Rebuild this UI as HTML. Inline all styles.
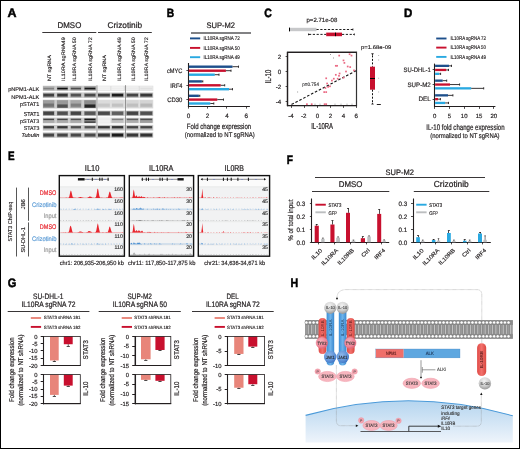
<!DOCTYPE html>
<html><head><meta charset="utf-8"><style>
html,body{margin:0;padding:0;background:#fff;}
body{width:520px;height:449px;overflow:hidden;}
svg{display:block;font-family:"Liberation Sans",sans-serif;will-change:transform;text-rendering:geometricPrecision;}
</style></head><body>
<svg width="520" height="449" viewBox="0 0 520 449" fill="#231f20">
<defs>
<filter id="bl" x="-20%" y="-60%" width="140%" height="220%"><feGaussianBlur stdDeviation="0.6"/></filter>
<filter id="bl2" x="-20%" y="-60%" width="140%" height="220%"><feGaussianBlur stdDeviation="0.35"/></filter>
<radialGradient id="ilg" cx="0.45" cy="0.3" r="0.75"><stop offset="0" stop-color="#f2f2f2"/><stop offset="0.55" stop-color="#cfcfcf"/><stop offset="1" stop-color="#8e8e8e"/></radialGradient>
<radialGradient id="tyk" cx="0.4" cy="0.35" r="0.7"><stop offset="0" stop-color="#f7b0bb"/><stop offset="0.7" stop-color="#ee8294"/><stop offset="1" stop-color="#d9596e"/></radialGradient>
<radialGradient id="jak" cx="0.4" cy="0.35" r="0.7"><stop offset="0" stop-color="#8fb8ea"/><stop offset="0.7" stop-color="#5b8fd6"/><stop offset="1" stop-color="#3a6fbf"/></radialGradient>
<linearGradient id="nuc" x1="0" y1="0" x2="0" y2="1"><stop offset="0" stop-color="#b5d5ef"/><stop offset="1" stop-color="#eef4fb"/></linearGradient>
<linearGradient id="rbar" x1="0" y1="0" x2="1" y2="0"><stop offset="0" stop-color="#e04a46"/><stop offset="0.5" stop-color="#f2716c"/><stop offset="1" stop-color="#d9463f"/></linearGradient>
<linearGradient id="bbar" x1="0" y1="0" x2="1" y2="0"><stop offset="0" stop-color="#3d8fd6"/><stop offset="0.5" stop-color="#6fb3ea"/><stop offset="1" stop-color="#3a88cf"/></linearGradient>
<pattern id="mem" x="0.4" y="320.2" width="3.54" height="18.6" patternUnits="userSpaceOnUse">
<rect x="0" y="0" width="3.54" height="18.6" fill="#979797"/>
<rect x="0" y="0" width="3.54" height="4.3" fill="#666"/>
<rect x="0" y="14.3" width="3.54" height="4.3" fill="#666"/>
<rect x="1.35" y="4.3" width="0.84" height="10" fill="#d2d2d2"/>
<rect x="0.2" y="4.3" width="0.5" height="10" fill="#5c5c5c"/>
<rect x="2.84" y="4.3" width="0.5" height="10" fill="#5c5c5c"/>
<circle cx="1.77" cy="2.2" r="1.5" fill="#fff" stroke="#555" stroke-width="0.25"/>
<circle cx="1.77" cy="16.4" r="1.5" fill="#fff" stroke="#555" stroke-width="0.25"/>
</pattern>
</defs>
<rect x="0" y="0" width="520" height="449" fill="#fff"/>
<text x="7.50" y="16.90" font-size="12.35" font-weight="bold" fill="#000" stroke="#000" stroke-width="0.5" textLength="9.00" lengthAdjust="spacingAndGlyphs">A</text>
<text x="166.70" y="16.90" font-size="12.06" font-weight="bold" fill="#000" stroke="#000" stroke-width="0.5" textLength="7.40" lengthAdjust="spacingAndGlyphs">B</text>
<text x="264.20" y="16.90" font-size="12.06" font-weight="bold" fill="#000" stroke="#000" stroke-width="0.5" textLength="7.60" lengthAdjust="spacingAndGlyphs">C</text>
<text x="404.00" y="16.90" font-size="12.06" font-weight="bold" fill="#000" stroke="#000" stroke-width="0.5" textLength="8.30" lengthAdjust="spacingAndGlyphs">D</text>
<text x="8.00" y="159.60" font-size="12.21" font-weight="bold" fill="#000" stroke="#000" stroke-width="0.5" textLength="6.60" lengthAdjust="spacingAndGlyphs">E</text>
<text x="286.70" y="164.00" font-size="12.21" font-weight="bold" fill="#000" stroke="#000" stroke-width="0.5" textLength="6.20" lengthAdjust="spacingAndGlyphs">F</text>
<text x="7.80" y="286.60" font-size="12.21" font-weight="bold" fill="#000" stroke="#000" stroke-width="0.5" textLength="8.60" lengthAdjust="spacingAndGlyphs">G</text>
<text x="290.60" y="286.60" font-size="12.21" font-weight="bold" fill="#000" stroke="#000" stroke-width="0.5" textLength="7.70" lengthAdjust="spacingAndGlyphs">H</text>
<text x="57.60" y="28.10" font-size="8.28" stroke="#231f20" stroke-width="0.232" textLength="23.70" lengthAdjust="spacingAndGlyphs">DMSO</text>
<text x="107.60" y="27.60" font-size="8.43" stroke="#231f20" stroke-width="0.236" textLength="34.50" lengthAdjust="spacingAndGlyphs">Crizotinib</text>
<line x1="42.30" y1="32.50" x2="96.30" y2="32.50" stroke="#231f20" stroke-width="0.9"/>
<line x1="98.00" y1="32.50" x2="151.80" y2="32.50" stroke="#231f20" stroke-width="0.9"/>
<text x="50.70" y="81.10" font-size="5.00" stroke="#231f20" stroke-width="0.140" textLength="26.10" lengthAdjust="spacingAndGlyphs" transform="rotate(-90 50.70 81.10)">NT sgRNA</text>
<text x="65.00" y="81.10" font-size="5.00" stroke="#231f20" stroke-width="0.140" textLength="43.90" lengthAdjust="spacingAndGlyphs" transform="rotate(-90 65.00 81.10)">IL10RA sgRNA49</text>
<text x="75.70" y="81.10" font-size="5.00" stroke="#231f20" stroke-width="0.140" textLength="43.90" lengthAdjust="spacingAndGlyphs" transform="rotate(-90 75.70 81.10)">IL10RA sgRNA 50</text>
<text x="92.30" y="81.10" font-size="5.00" stroke="#231f20" stroke-width="0.140" textLength="43.90" lengthAdjust="spacingAndGlyphs" transform="rotate(-90 92.30 81.10)">IL10RA sgRNA 72</text>
<text x="105.60" y="81.10" font-size="5.00" stroke="#231f20" stroke-width="0.140" textLength="26.10" lengthAdjust="spacingAndGlyphs" transform="rotate(-90 105.60 81.10)">NT sgRNA</text>
<text x="120.60" y="81.10" font-size="5.00" stroke="#231f20" stroke-width="0.140" textLength="43.90" lengthAdjust="spacingAndGlyphs" transform="rotate(-90 120.60 81.10)">IL10RA sgRNA 49</text>
<text x="135.10" y="81.10" font-size="5.00" stroke="#231f20" stroke-width="0.140" textLength="43.90" lengthAdjust="spacingAndGlyphs" transform="rotate(-90 135.10 81.10)">IL10RA sgRNA 50</text>
<text x="148.20" y="81.10" font-size="5.00" stroke="#231f20" stroke-width="0.140" textLength="43.90" lengthAdjust="spacingAndGlyphs" transform="rotate(-90 148.20 81.10)">IL10RA sgRNA 72</text>
<text x="8.20" y="90.90" font-size="5.38" stroke="#231f20" stroke-width="0.151" textLength="31.10" lengthAdjust="spacingAndGlyphs">pNPM1-ALK</text>
<text x="11.20" y="98.60" font-size="5.52" stroke="#231f20" stroke-width="0.155" textLength="28.10" lengthAdjust="spacingAndGlyphs">NPM1-ALK</text>
<text x="20.00" y="105.90" font-size="5.52" stroke="#231f20" stroke-width="0.155" textLength="19.30" lengthAdjust="spacingAndGlyphs">pSTAT1</text>
<text x="23.80" y="115.70" font-size="5.67" stroke="#231f20" stroke-width="0.159" textLength="15.50" lengthAdjust="spacingAndGlyphs">STAT1</text>
<text x="20.00" y="122.50" font-size="5.38" stroke="#231f20" stroke-width="0.151" textLength="19.30" lengthAdjust="spacingAndGlyphs">pSTAT3</text>
<text x="23.80" y="129.90" font-size="5.52" stroke="#231f20" stroke-width="0.155" textLength="15.50" lengthAdjust="spacingAndGlyphs">STAT3</text>
<text x="21.50" y="136.60" font-size="5.52" font-style="italic" stroke="#231f20" stroke-width="0.155" textLength="17.80" lengthAdjust="spacingAndGlyphs">Tubulin</text>
<rect x="42.80" y="85.70" width="54.20" height="5.20" fill="#cccccc"/>
<rect x="97.30" y="85.70" width="56.00" height="5.20" fill="#e0e0e0"/>
<rect x="43.00" y="86.20" width="11.40" height="4.20" fill="#b2b2b2" filter="url(#bl)"/>
<rect x="43.40" y="87.76" width="10.60" height="1.60" fill="#808080" filter="url(#bl)"/>
<rect x="56.90" y="86.20" width="11.10" height="4.20" fill="#a6a6a6" filter="url(#bl)"/>
<rect x="57.30" y="87.76" width="10.30" height="1.60" fill="#080808" filter="url(#bl)"/>
<rect x="70.40" y="86.20" width="11.00" height="4.20" fill="#ababab" filter="url(#bl)"/>
<rect x="70.80" y="87.76" width="10.20" height="1.60" fill="#4d4d4d" filter="url(#bl)"/>
<rect x="84.20" y="86.20" width="11.60" height="4.20" fill="#999999" filter="url(#bl)"/>
<rect x="84.60" y="87.76" width="10.80" height="1.60" fill="#141414" filter="url(#bl)"/>
<rect x="97.60" y="86.20" width="12.60" height="4.20" fill="#f2f2f2" filter="url(#bl)"/>
<rect x="98.00" y="87.76" width="11.80" height="1.60" fill="#f0f0f0" filter="url(#bl)"/>
<rect x="111.50" y="86.20" width="12.10" height="4.20" fill="#f2f2f2" filter="url(#bl)"/>
<rect x="111.90" y="87.76" width="11.30" height="1.60" fill="#ededed" filter="url(#bl)"/>
<rect x="126.40" y="86.20" width="12.10" height="4.20" fill="#f0f0f0" filter="url(#bl)"/>
<rect x="126.80" y="87.76" width="11.30" height="1.60" fill="#ebebeb" filter="url(#bl)"/>
<rect x="140.00" y="86.20" width="12.60" height="4.20" fill="#ebebeb" filter="url(#bl)"/>
<rect x="140.40" y="87.76" width="11.80" height="1.60" fill="#e0e0e0" filter="url(#bl)"/>
<rect x="42.80" y="92.40" width="54.20" height="5.50" fill="#cccccc"/>
<rect x="97.30" y="92.40" width="56.00" height="5.50" fill="#d4d4d4"/>
<rect x="43.00" y="92.90" width="11.40" height="4.50" fill="#999999" filter="url(#bl)"/>
<rect x="43.40" y="93.85" width="10.60" height="2.60" fill="#404040" filter="url(#bl)"/>
<rect x="56.90" y="92.90" width="11.10" height="4.50" fill="#999999" filter="url(#bl)"/>
<rect x="57.30" y="93.85" width="10.30" height="2.60" fill="#383838" filter="url(#bl)"/>
<rect x="70.40" y="92.90" width="11.00" height="4.50" fill="#a1a1a1" filter="url(#bl)"/>
<rect x="70.80" y="93.85" width="10.20" height="2.60" fill="#525252" filter="url(#bl)"/>
<rect x="84.20" y="92.90" width="11.60" height="4.50" fill="#a1a1a1" filter="url(#bl)"/>
<rect x="84.60" y="93.85" width="10.80" height="2.60" fill="#4a4a4a" filter="url(#bl)"/>
<rect x="97.60" y="92.90" width="12.60" height="4.50" fill="#a6a6a6" filter="url(#bl)"/>
<rect x="98.00" y="93.85" width="11.80" height="2.60" fill="#404040" filter="url(#bl)"/>
<rect x="111.50" y="92.90" width="12.10" height="4.50" fill="#999999" filter="url(#bl)"/>
<rect x="111.90" y="93.85" width="11.30" height="2.60" fill="#1f1f1f" filter="url(#bl)"/>
<rect x="126.40" y="92.90" width="12.10" height="4.50" fill="#a1a1a1" filter="url(#bl)"/>
<rect x="126.80" y="93.85" width="11.30" height="2.60" fill="#454545" filter="url(#bl)"/>
<rect x="140.00" y="92.90" width="12.60" height="4.50" fill="#999999" filter="url(#bl)"/>
<rect x="140.40" y="93.85" width="11.80" height="2.60" fill="#383838" filter="url(#bl)"/>
<rect x="42.80" y="99.70" width="54.20" height="8.80" fill="#cccccc"/>
<rect x="97.30" y="99.70" width="56.00" height="8.80" fill="#e0e0e0"/>
<rect x="43.00" y="100.20" width="11.40" height="7.80" fill="#9e9e9e" filter="url(#bl)"/>
<rect x="43.40" y="103.56" width="10.60" height="3.20" fill="#737373" filter="url(#bl)"/>
<rect x="56.90" y="100.20" width="11.10" height="7.80" fill="#999999" filter="url(#bl)"/>
<rect x="57.30" y="104.44" width="10.30" height="3.20" fill="#525252" filter="url(#bl)"/>
<rect x="70.40" y="100.20" width="11.00" height="7.80" fill="#a8a8a8" filter="url(#bl)"/>
<rect x="70.80" y="103.56" width="10.20" height="3.20" fill="#808080" filter="url(#bl)"/>
<rect x="84.20" y="100.20" width="11.60" height="7.80" fill="#8c8c8c" filter="url(#bl)"/>
<rect x="84.60" y="104.44" width="10.80" height="3.20" fill="#262626" filter="url(#bl)"/>
<rect x="97.60" y="100.20" width="12.60" height="7.80" fill="#dbdbdb" filter="url(#bl)"/>
<rect x="98.00" y="103.56" width="11.80" height="3.20" fill="#c7c7c7" filter="url(#bl)"/>
<rect x="111.50" y="100.20" width="12.10" height="7.80" fill="#dbdbdb" filter="url(#bl)"/>
<rect x="111.90" y="103.56" width="11.30" height="3.20" fill="#c2c2c2" filter="url(#bl)"/>
<rect x="126.40" y="100.20" width="12.10" height="7.80" fill="#d6d6d6" filter="url(#bl)"/>
<rect x="126.80" y="103.56" width="11.30" height="3.20" fill="#bfbfbf" filter="url(#bl)"/>
<rect x="140.00" y="100.20" width="12.60" height="7.80" fill="#d4d4d4" filter="url(#bl)"/>
<rect x="140.40" y="103.56" width="11.80" height="3.20" fill="#b8b8b8" filter="url(#bl)"/>
<rect x="42.80" y="110.50" width="54.20" height="5.60" fill="#cccccc"/>
<rect x="97.30" y="110.50" width="56.00" height="5.60" fill="#d4d4d4"/>
<rect x="43.00" y="111.00" width="11.40" height="4.60" fill="#919191" filter="url(#bl)"/>
<rect x="43.40" y="111.70" width="10.60" height="3.20" fill="#454545" filter="url(#bl)"/>
<rect x="56.90" y="111.00" width="11.10" height="4.60" fill="#969696" filter="url(#bl)"/>
<rect x="57.30" y="111.70" width="10.30" height="3.20" fill="#4f4f4f" filter="url(#bl)"/>
<rect x="70.40" y="111.00" width="11.00" height="4.60" fill="#919191" filter="url(#bl)"/>
<rect x="70.80" y="111.70" width="10.20" height="3.20" fill="#454545" filter="url(#bl)"/>
<rect x="84.20" y="111.00" width="11.60" height="4.60" fill="#969696" filter="url(#bl)"/>
<rect x="84.60" y="111.70" width="10.80" height="3.20" fill="#545454" filter="url(#bl)"/>
<rect x="97.60" y="111.00" width="12.60" height="4.60" fill="#999999" filter="url(#bl)"/>
<rect x="98.00" y="111.70" width="11.80" height="3.20" fill="#4a4a4a" filter="url(#bl)"/>
<rect x="111.50" y="111.00" width="12.10" height="4.60" fill="#a1a1a1" filter="url(#bl)"/>
<rect x="111.90" y="111.70" width="11.30" height="3.20" fill="#5e5e5e" filter="url(#bl)"/>
<rect x="126.40" y="111.00" width="12.10" height="4.60" fill="#919191" filter="url(#bl)"/>
<rect x="126.80" y="111.70" width="11.30" height="3.20" fill="#454545" filter="url(#bl)"/>
<rect x="140.00" y="111.00" width="12.60" height="4.60" fill="#969696" filter="url(#bl)"/>
<rect x="140.40" y="111.70" width="11.80" height="3.20" fill="#4f4f4f" filter="url(#bl)"/>
<rect x="42.80" y="117.60" width="54.20" height="5.80" fill="#cccccc"/>
<rect x="97.30" y="117.60" width="56.00" height="5.80" fill="#e0e0e0"/>
<rect x="43.00" y="118.10" width="11.40" height="4.80" fill="#ababab" filter="url(#bl)"/>
<rect x="43.40" y="118.81" width="10.60" height="1.30" fill="#474747" filter="url(#bl)"/>
<rect x="56.90" y="118.10" width="11.10" height="4.80" fill="#ababab" filter="url(#bl)"/>
<rect x="57.30" y="118.81" width="10.30" height="1.30" fill="#474747" filter="url(#bl)"/>
<rect x="70.40" y="118.10" width="11.00" height="4.80" fill="#ababab" filter="url(#bl)"/>
<rect x="70.80" y="118.81" width="10.20" height="1.30" fill="#525252" filter="url(#bl)"/>
<rect x="84.20" y="118.10" width="11.60" height="4.80" fill="#8c8c8c" filter="url(#bl)"/>
<rect x="84.60" y="118.81" width="10.80" height="1.30" fill="#191919" filter="url(#bl)"/>
<rect x="84.60" y="121.52" width="10.80" height="1.2" fill="#333333" filter="url(#bl)"/>
<rect x="97.60" y="118.10" width="12.60" height="4.80" fill="#f0f0f0" filter="url(#bl)"/>
<rect x="98.00" y="118.81" width="11.80" height="1.30" fill="#ebebeb" filter="url(#bl)"/>
<rect x="111.50" y="118.10" width="12.10" height="4.80" fill="#bfbfbf" filter="url(#bl)"/>
<rect x="111.90" y="118.81" width="11.30" height="1.30" fill="#808080" filter="url(#bl)"/>
<rect x="126.40" y="118.10" width="12.10" height="4.80" fill="#adadad" filter="url(#bl)"/>
<rect x="126.80" y="118.81" width="11.30" height="1.30" fill="#616161" filter="url(#bl)"/>
<rect x="140.00" y="118.10" width="12.60" height="4.80" fill="#9e9e9e" filter="url(#bl)"/>
<rect x="140.40" y="118.81" width="11.80" height="1.30" fill="#4d4d4d" filter="url(#bl)"/>
<rect x="42.80" y="124.80" width="54.20" height="5.80" fill="#cccccc"/>
<rect x="97.30" y="124.80" width="56.00" height="5.80" fill="#d4d4d4"/>
<rect x="43.00" y="125.30" width="11.40" height="4.80" fill="#bfbfbf" filter="url(#bl)"/>
<rect x="43.40" y="126.09" width="10.60" height="2.30" fill="#404040" filter="url(#bl)"/>
<rect x="56.90" y="125.30" width="11.10" height="4.80" fill="#bfbfbf" filter="url(#bl)"/>
<rect x="57.30" y="126.09" width="10.30" height="2.30" fill="#383838" filter="url(#bl)"/>
<rect x="70.40" y="125.30" width="11.00" height="4.80" fill="#c4c4c4" filter="url(#bl)"/>
<rect x="70.80" y="126.09" width="10.20" height="2.30" fill="#4f4f4f" filter="url(#bl)"/>
<rect x="84.20" y="125.30" width="11.60" height="4.80" fill="#c4c4c4" filter="url(#bl)"/>
<rect x="84.60" y="126.09" width="10.80" height="2.30" fill="#525252" filter="url(#bl)"/>
<rect x="97.60" y="125.30" width="12.60" height="4.80" fill="#bfbfbf" filter="url(#bl)"/>
<rect x="98.00" y="126.09" width="11.80" height="2.30" fill="#383838" filter="url(#bl)"/>
<rect x="111.50" y="125.30" width="12.10" height="4.80" fill="#bababa" filter="url(#bl)"/>
<rect x="111.90" y="126.09" width="11.30" height="2.30" fill="#303030" filter="url(#bl)"/>
<rect x="126.40" y="125.30" width="12.10" height="4.80" fill="#bfbfbf" filter="url(#bl)"/>
<rect x="126.80" y="126.09" width="11.30" height="2.30" fill="#454545" filter="url(#bl)"/>
<rect x="140.00" y="125.30" width="12.60" height="4.80" fill="#bfbfbf" filter="url(#bl)"/>
<rect x="140.40" y="126.09" width="11.80" height="2.30" fill="#454545" filter="url(#bl)"/>
<rect x="42.80" y="132.40" width="54.20" height="5.40" fill="#cccccc"/>
<rect x="97.30" y="132.40" width="56.00" height="5.40" fill="#d4d4d4"/>
<rect x="43.00" y="132.90" width="11.40" height="4.40" fill="#a1a1a1" filter="url(#bl)"/>
<rect x="43.40" y="133.70" width="10.60" height="2.80" fill="#454545" filter="url(#bl)"/>
<rect x="56.90" y="132.90" width="11.10" height="4.40" fill="#a1a1a1" filter="url(#bl)"/>
<rect x="57.30" y="133.70" width="10.30" height="2.80" fill="#454545" filter="url(#bl)"/>
<rect x="70.40" y="132.90" width="11.00" height="4.40" fill="#a1a1a1" filter="url(#bl)"/>
<rect x="70.80" y="133.70" width="10.20" height="2.80" fill="#4a4a4a" filter="url(#bl)"/>
<rect x="84.20" y="132.90" width="11.60" height="4.40" fill="#a1a1a1" filter="url(#bl)"/>
<rect x="84.60" y="133.70" width="10.80" height="2.80" fill="#4a4a4a" filter="url(#bl)"/>
<rect x="97.60" y="132.90" width="12.60" height="4.40" fill="#999999" filter="url(#bl)"/>
<rect x="98.00" y="133.70" width="11.80" height="2.80" fill="#383838" filter="url(#bl)"/>
<rect x="111.50" y="132.90" width="12.10" height="4.40" fill="#8c8c8c" filter="url(#bl)"/>
<rect x="111.90" y="133.70" width="11.30" height="2.80" fill="#1f1f1f" filter="url(#bl)"/>
<rect x="126.40" y="132.90" width="12.10" height="4.40" fill="#999999" filter="url(#bl)"/>
<rect x="126.80" y="133.70" width="11.30" height="2.80" fill="#383838" filter="url(#bl)"/>
<rect x="140.00" y="132.90" width="12.60" height="4.40" fill="#999999" filter="url(#bl)"/>
<rect x="140.40" y="133.70" width="11.80" height="2.80" fill="#303030" filter="url(#bl)"/>
<line x1="97.00" y1="85.20" x2="97.00" y2="138.40" stroke="#adadad" stroke-width="1.1"/>
<line x1="125.50" y1="85.20" x2="125.50" y2="138.40" stroke="#8a8a8a" stroke-width="0.9"/>
<text x="206.50" y="28.00" font-size="7.99" stroke="#231f20" stroke-width="0.224" textLength="28.50" lengthAdjust="spacingAndGlyphs">SUP-M2</text>
<line x1="191.00" y1="33.00" x2="251.00" y2="33.00" stroke="#58595b" stroke-width="1.5"/>
<line x1="190.00" y1="38.40" x2="200.20" y2="38.40" stroke="#1d4f8b" stroke-width="1.9"/>
<text x="203.50" y="40.10" font-size="5.38" stroke="#231f20" stroke-width="0.151" textLength="36.30" lengthAdjust="spacingAndGlyphs">IL10RA sgRNA 72</text>
<line x1="190.00" y1="47.90" x2="200.20" y2="47.90" stroke="#c8102e" stroke-width="1.9"/>
<text x="203.50" y="49.60" font-size="5.38" stroke="#231f20" stroke-width="0.151" textLength="36.30" lengthAdjust="spacingAndGlyphs">IL10RA sgRNA 50</text>
<line x1="190.00" y1="57.20" x2="200.20" y2="57.20" stroke="#29a9e1" stroke-width="1.9"/>
<text x="203.50" y="58.90" font-size="5.38" stroke="#231f20" stroke-width="0.151" textLength="36.30" lengthAdjust="spacingAndGlyphs">IL10RA sgRNA 49</text>
<line x1="188.50" y1="63.00" x2="188.50" y2="106.90" stroke="#231f20" stroke-width="1.1"/>
<line x1="187.90" y1="106.50" x2="249.90" y2="106.50" stroke="#231f20" stroke-width="1.1"/>
<line x1="188.50" y1="106.40" x2="188.50" y2="108.60" stroke="#231f20" stroke-width="0.8"/>
<line x1="207.50" y1="106.40" x2="207.50" y2="108.60" stroke="#231f20" stroke-width="0.8"/>
<line x1="226.50" y1="106.40" x2="226.50" y2="108.60" stroke="#231f20" stroke-width="0.8"/>
<line x1="246.50" y1="106.40" x2="246.50" y2="108.60" stroke="#231f20" stroke-width="0.8"/>
<text x="188.40" y="118.00" font-size="6.30" text-anchor="middle" stroke="#231f20" stroke-width="0.176">0</text>
<text x="207.60" y="118.00" font-size="6.30" text-anchor="middle" stroke="#231f20" stroke-width="0.176">2</text>
<text x="226.90" y="118.00" font-size="6.30" text-anchor="middle" stroke="#231f20" stroke-width="0.176">4</text>
<text x="246.20" y="118.00" font-size="6.30" text-anchor="middle" stroke="#231f20" stroke-width="0.176">6</text>
<line x1="186.40" y1="70.50" x2="188.40" y2="70.50" stroke="#231f20" stroke-width="0.8"/>
<rect x="188.90" y="65.50" width="43.60" height="2.40" fill="#1d4f8b"/>
<line x1="232.50" y1="66.70" x2="238.50" y2="66.70" stroke="#231f20" stroke-width="0.9"/>
<line x1="238.50" y1="65.60" x2="238.50" y2="67.80" stroke="#231f20" stroke-width="0.9"/>
<rect x="188.90" y="69.50" width="37.00" height="2.40" fill="#c8102e"/>
<line x1="225.90" y1="70.70" x2="231.00" y2="70.70" stroke="#231f20" stroke-width="0.9"/>
<line x1="231.00" y1="69.60" x2="231.00" y2="71.80" stroke="#231f20" stroke-width="0.9"/>
<rect x="188.90" y="73.50" width="25.90" height="2.40" fill="#29a9e1"/>
<line x1="214.80" y1="74.70" x2="219.00" y2="74.70" stroke="#231f20" stroke-width="0.9"/>
<line x1="219.00" y1="73.60" x2="219.00" y2="75.80" stroke="#231f20" stroke-width="0.9"/>
<line x1="186.40" y1="85.50" x2="188.40" y2="85.50" stroke="#231f20" stroke-width="0.8"/>
<rect x="188.90" y="80.20" width="13.00" height="2.40" fill="#1d4f8b"/>
<line x1="201.90" y1="81.40" x2="202.80" y2="81.40" stroke="#231f20" stroke-width="0.9"/>
<line x1="202.80" y1="80.30" x2="202.80" y2="82.50" stroke="#231f20" stroke-width="0.9"/>
<rect x="188.90" y="84.10" width="31.80" height="2.40" fill="#c8102e"/>
<line x1="220.70" y1="85.30" x2="224.70" y2="85.30" stroke="#231f20" stroke-width="0.9"/>
<line x1="224.70" y1="84.20" x2="224.70" y2="86.40" stroke="#231f20" stroke-width="0.9"/>
<rect x="188.90" y="88.00" width="40.10" height="2.40" fill="#29a9e1"/>
<line x1="229.00" y1="89.20" x2="232.50" y2="89.20" stroke="#231f20" stroke-width="0.9"/>
<line x1="232.50" y1="88.10" x2="232.50" y2="90.30" stroke="#231f20" stroke-width="0.9"/>
<line x1="186.40" y1="99.50" x2="188.40" y2="99.50" stroke="#231f20" stroke-width="0.8"/>
<rect x="188.90" y="94.60" width="10.00" height="2.40" fill="#1d4f8b"/>
<line x1="198.90" y1="95.80" x2="199.80" y2="95.80" stroke="#231f20" stroke-width="0.9"/>
<line x1="199.80" y1="94.70" x2="199.80" y2="96.90" stroke="#231f20" stroke-width="0.9"/>
<rect x="188.90" y="98.40" width="28.40" height="2.40" fill="#c8102e"/>
<line x1="217.30" y1="99.60" x2="223.50" y2="99.60" stroke="#231f20" stroke-width="0.9"/>
<line x1="223.50" y1="98.50" x2="223.50" y2="100.70" stroke="#231f20" stroke-width="0.9"/>
<rect x="188.90" y="102.30" width="21.40" height="2.40" fill="#29a9e1"/>
<line x1="210.30" y1="103.50" x2="213.80" y2="103.50" stroke="#231f20" stroke-width="0.9"/>
<line x1="213.80" y1="102.40" x2="213.80" y2="104.60" stroke="#231f20" stroke-width="0.9"/>
<text x="167.00" y="72.90" font-size="6.40" stroke="#231f20" stroke-width="0.179" textLength="15.40" lengthAdjust="spacingAndGlyphs">cMYC</text>
<text x="170.30" y="87.50" font-size="6.40" stroke="#231f20" stroke-width="0.179" textLength="12.10" lengthAdjust="spacingAndGlyphs">IRF4</text>
<text x="167.20" y="101.80" font-size="6.40" stroke="#231f20" stroke-width="0.179" textLength="15.20" lengthAdjust="spacingAndGlyphs">CD30</text>
<text x="186.80" y="128.80" font-size="7.70" stroke="#231f20" stroke-width="0.216" textLength="64.40" lengthAdjust="spacingAndGlyphs">Fold change expression</text>
<text x="184.80" y="136.60" font-size="6.83" stroke="#231f20" stroke-width="0.191" textLength="70.00" lengthAdjust="spacingAndGlyphs">(normalized to NT sgRNA)</text>
<text x="306.50" y="21.90" font-size="5.96" stroke="#231f20" stroke-width="0.167" textLength="30.80" lengthAdjust="spacingAndGlyphs">p=2.71e-08</text>
<rect x="289.80" y="27.80" width="26.70" height="3.40" fill="#c7c8ca"/>
<line x1="289.50" y1="27.60" x2="289.50" y2="31.40" stroke="#000" stroke-width="1.0"/>
<line x1="316.50" y1="29.50" x2="352.50" y2="29.50" stroke="#111" stroke-width="0.95" stroke-dasharray="2.2 1.6"/>
<path d="M353.3 28.3 L351.3 29.5 L353.3 30.7 Z" fill="#231f20"/>
<line x1="309.00" y1="34.40" x2="326.20" y2="34.40" stroke="#111" stroke-width="0.95" stroke-dasharray="2.2 1.6"/>
<path d="M308.0 33.2 L310.0 34.4 L308.0 35.6 Z" fill="#231f20"/>
<rect x="326.20" y="32.60" width="15.80" height="3.60" fill="#c8102e"/>
<line x1="335.50" y1="32.60" x2="335.50" y2="36.20" stroke="#000" stroke-width="1.0"/>
<line x1="342.00" y1="34.40" x2="353.80" y2="34.40" stroke="#111" stroke-width="0.95" stroke-dasharray="2.2 1.6"/>
<path d="M354.8 33.2 L352.8 34.4 L354.8 35.6 Z" fill="#231f20"/>
<rect x="287.5" y="52.1" width="69.0" height="53.6" fill="none" stroke="#333" stroke-width="1.2"/>
<line x1="287.50" y1="52.00" x2="287.50" y2="106.20" stroke="#231f20" stroke-width="1.3"/>
<line x1="287.60" y1="105.50" x2="356.50" y2="105.50" stroke="#231f20" stroke-width="1.2"/>
<line x1="287.60" y1="52.50" x2="356.50" y2="52.50" stroke="#231f20" stroke-width="1.1"/>
<line x1="285.60" y1="56.50" x2="287.60" y2="56.50" stroke="#231f20" stroke-width="0.8"/>
<text x="281.30" y="58.80" font-size="6.20" text-anchor="end" stroke="#231f20" stroke-width="0.174">2</text>
<line x1="285.60" y1="71.50" x2="287.60" y2="71.50" stroke="#231f20" stroke-width="0.8"/>
<text x="281.30" y="73.90" font-size="6.20" text-anchor="end" stroke="#231f20" stroke-width="0.174">0</text>
<line x1="285.60" y1="86.50" x2="287.60" y2="86.50" stroke="#231f20" stroke-width="0.8"/>
<text x="281.30" y="89.00" font-size="6.20" text-anchor="end" stroke="#231f20" stroke-width="0.174">-2</text>
<line x1="285.60" y1="101.50" x2="287.60" y2="101.50" stroke="#231f20" stroke-width="0.8"/>
<text x="281.30" y="104.10" font-size="6.20" text-anchor="end" stroke="#231f20" stroke-width="0.174">-4</text>
<line x1="291.50" y1="105.70" x2="291.50" y2="107.90" stroke="#231f20" stroke-width="0.8"/>
<text x="290.90" y="118.10" font-size="6.20" text-anchor="middle" stroke="#231f20" stroke-width="0.174">-4</text>
<line x1="304.50" y1="105.70" x2="304.50" y2="107.90" stroke="#231f20" stroke-width="0.8"/>
<text x="303.80" y="118.10" font-size="6.20" text-anchor="middle" stroke="#231f20" stroke-width="0.174">-2</text>
<line x1="317.50" y1="105.70" x2="317.50" y2="107.90" stroke="#231f20" stroke-width="0.8"/>
<text x="317.60" y="118.10" font-size="6.20" text-anchor="middle" stroke="#231f20" stroke-width="0.174">0</text>
<line x1="330.50" y1="105.70" x2="330.50" y2="107.90" stroke="#231f20" stroke-width="0.8"/>
<text x="330.50" y="118.10" font-size="6.20" text-anchor="middle" stroke="#231f20" stroke-width="0.174">2</text>
<line x1="343.50" y1="105.70" x2="343.50" y2="107.90" stroke="#231f20" stroke-width="0.8"/>
<text x="343.40" y="118.10" font-size="6.20" text-anchor="middle" stroke="#231f20" stroke-width="0.174">4</text>
<line x1="356.50" y1="105.70" x2="356.50" y2="107.90" stroke="#231f20" stroke-width="0.8"/>
<text x="356.30" y="118.10" font-size="6.20" text-anchor="middle" stroke="#231f20" stroke-width="0.174">6</text>
<text x="311.20" y="128.60" font-size="8.58" stroke="#231f20" stroke-width="0.240" textLength="21.80" lengthAdjust="spacingAndGlyphs">IL-10RA</text>
<text x="271.00" y="76.60" font-size="8.40" text-anchor="middle" stroke="#231f20" stroke-width="0.235" textLength="13.70" lengthAdjust="spacingAndGlyphs" transform="rotate(-90 271.00 76.60)">IL-10</text>
<text x="302.20" y="85.60" font-size="4.94" fill="#414042" stroke="#414042" stroke-width="0.138" textLength="16.80" lengthAdjust="spacingAndGlyphs">p=0.754</text>
<line x1="291.50" y1="104.50" x2="356.30" y2="70.60" stroke="#111" stroke-width="1.1" stroke-dasharray="2.6 1.8"/>
<rect x="338.35" y="54.75" width="1.70" height="1.70" fill="#ea6882"/>
<rect x="348.75" y="53.35" width="1.70" height="1.70" fill="#ea6882"/>
<rect x="350.65" y="54.75" width="1.70" height="1.70" fill="#ea6882"/>
<rect x="342.65" y="59.55" width="1.70" height="1.70" fill="#ea6882"/>
<rect x="343.55" y="62.05" width="1.70" height="1.70" fill="#ea6882"/>
<rect x="334.95" y="64.95" width="1.70" height="1.70" fill="#ea6882"/>
<rect x="336.25" y="64.95" width="1.70" height="1.70" fill="#ea6882"/>
<rect x="346.85" y="65.65" width="1.70" height="1.70" fill="#ea6882"/>
<rect x="349.35" y="66.25" width="1.70" height="1.70" fill="#ea6882"/>
<rect x="353.15" y="69.55" width="1.70" height="1.70" fill="#ea6882"/>
<rect x="338.75" y="72.65" width="1.70" height="1.70" fill="#ea6882"/>
<rect x="334.95" y="73.95" width="1.70" height="1.70" fill="#ea6882"/>
<rect x="325.35" y="77.45" width="1.70" height="1.70" fill="#ea6882"/>
<rect x="332.95" y="77.85" width="1.70" height="1.70" fill="#ea6882"/>
<rect x="331.05" y="79.75" width="1.70" height="1.70" fill="#ea6882"/>
<rect x="336.85" y="77.85" width="1.70" height="1.70" fill="#ea6882"/>
<rect x="342.65" y="76.85" width="1.70" height="1.70" fill="#ea6882"/>
<rect x="326.25" y="82.65" width="1.70" height="1.70" fill="#ea6882"/>
<rect x="329.15" y="85.45" width="1.70" height="1.70" fill="#ea6882"/>
<rect x="327.25" y="86.05" width="1.70" height="1.70" fill="#ea6882"/>
<rect x="323.35" y="91.25" width="1.70" height="1.70" fill="#ea6882"/>
<rect x="325.35" y="91.25" width="1.70" height="1.70" fill="#ea6882"/>
<rect x="306.05" y="103.35" width="1.70" height="1.70" fill="#ea6882"/>
<rect x="310.85" y="103.35" width="1.70" height="1.70" fill="#ea6882"/>
<rect x="323.75" y="103.35" width="1.70" height="1.70" fill="#ea6882"/>
<rect x="325.35" y="103.35" width="1.70" height="1.70" fill="#ea6882"/>
<rect x="338.15" y="74.95" width="1.70" height="1.70" fill="#ea6882"/>
<rect x="345.15" y="70.65" width="1.70" height="1.70" fill="#ea6882"/>
<rect x="324.55" y="87.15" width="1.70" height="1.70" fill="#ea6882"/>
<rect x="330.00" y="54.00" width="1.00" height="1.00" fill="#9a9a9a"/>
<rect x="333.00" y="57.50" width="1.00" height="1.00" fill="#9a9a9a"/>
<rect x="297.10" y="91.50" width="1.00" height="1.00" fill="#9a9a9a"/>
<rect x="291.50" y="103.70" width="1.00" height="1.00" fill="#9a9a9a"/>
<rect x="314.50" y="103.70" width="1.00" height="1.00" fill="#9a9a9a"/>
<rect x="334.50" y="103.70" width="1.00" height="1.00" fill="#9a9a9a"/>
<rect x="340.50" y="103.70" width="1.00" height="1.00" fill="#9a9a9a"/>
<rect x="346.50" y="103.70" width="1.00" height="1.00" fill="#9a9a9a"/>
<rect x="351.50" y="103.70" width="1.00" height="1.00" fill="#9a9a9a"/>
<rect x="319.50" y="103.70" width="1.00" height="1.00" fill="#9a9a9a"/>
<text x="361.00" y="49.00" font-size="5.38" stroke="#231f20" stroke-width="0.151" textLength="30.30" lengthAdjust="spacingAndGlyphs">p=1.68e-09</text>
<path d="M371.2 53.2 L373.8 53.2 L372.5 55.4 Z" fill="#231f20"/>
<line x1="372.50" y1="55.40" x2="372.50" y2="66.70" stroke="#111" stroke-width="1.0" stroke-dasharray="2.0 1.5"/>
<rect x="370.00" y="66.70" width="5.00" height="23.00" fill="#c8102e"/>
<line x1="370.00" y1="78.50" x2="375.00" y2="78.50" stroke="#000" stroke-width="1.0"/>
<line x1="372.50" y1="89.70" x2="372.50" y2="103.40" stroke="#111" stroke-width="1.0" stroke-dasharray="2.0 1.5"/>
<path d="M371.2 104.6 L373.8 104.6 L372.5 102.6 Z" fill="#231f20"/>
<line x1="376.80" y1="104.50" x2="380.80" y2="104.50" stroke="#231f20" stroke-width="1.0"/>
<rect x="378.30" y="55.10" width="0.80" height="0.80" fill="#8a8a8a"/>
<rect x="378.30" y="59.60" width="0.80" height="0.80" fill="#8a8a8a"/>
<rect x="378.30" y="77.80" width="0.80" height="0.80" fill="#8a8a8a"/>
<rect x="378.30" y="91.60" width="0.80" height="0.80" fill="#8a8a8a"/>
<line x1="436.20" y1="38.50" x2="446.50" y2="38.50" stroke="#1d4f8b" stroke-width="1.9"/>
<text x="450.40" y="40.20" font-size="5.38" stroke="#231f20" stroke-width="0.151" textLength="35.60" lengthAdjust="spacingAndGlyphs">IL10RA sgRNA 72</text>
<line x1="436.20" y1="47.60" x2="446.50" y2="47.60" stroke="#c8102e" stroke-width="1.9"/>
<text x="450.40" y="49.30" font-size="5.38" stroke="#231f20" stroke-width="0.151" textLength="35.60" lengthAdjust="spacingAndGlyphs">IL10RA sgRNA 50</text>
<line x1="436.20" y1="56.90" x2="446.50" y2="56.90" stroke="#29a9e1" stroke-width="1.9"/>
<text x="450.40" y="58.60" font-size="5.38" stroke="#231f20" stroke-width="0.151" textLength="35.60" lengthAdjust="spacingAndGlyphs">IL10RA sgRNA 49</text>
<line x1="434.50" y1="63.60" x2="434.50" y2="107.00" stroke="#231f20" stroke-width="1.1"/>
<line x1="434.10" y1="106.50" x2="495.40" y2="106.50" stroke="#231f20" stroke-width="1.1"/>
<line x1="434.50" y1="106.60" x2="434.50" y2="108.90" stroke="#231f20" stroke-width="0.8"/>
<text x="434.60" y="117.50" font-size="6.00" text-anchor="middle" stroke="#231f20" stroke-width="0.168">0</text>
<line x1="449.50" y1="106.60" x2="449.50" y2="108.90" stroke="#231f20" stroke-width="0.8"/>
<text x="449.40" y="117.50" font-size="6.00" text-anchor="middle" stroke="#231f20" stroke-width="0.168">5</text>
<line x1="464.50" y1="106.60" x2="464.50" y2="108.90" stroke="#231f20" stroke-width="0.8"/>
<text x="464.20" y="117.50" font-size="6.00" text-anchor="middle" stroke="#231f20" stroke-width="0.168">10</text>
<line x1="479.50" y1="106.60" x2="479.50" y2="108.90" stroke="#231f20" stroke-width="0.8"/>
<text x="479.00" y="117.50" font-size="6.00" text-anchor="middle" stroke="#231f20" stroke-width="0.168">15</text>
<line x1="493.50" y1="106.60" x2="493.50" y2="108.90" stroke="#231f20" stroke-width="0.8"/>
<text x="493.80" y="117.50" font-size="6.00" text-anchor="middle" stroke="#231f20" stroke-width="0.168">20</text>
<line x1="432.60" y1="69.50" x2="434.60" y2="69.50" stroke="#231f20" stroke-width="0.8"/>
<text x="403.50" y="72.10" font-size="6.40" stroke="#231f20" stroke-width="0.179" textLength="27.30" lengthAdjust="spacingAndGlyphs">SU-DHL-1</text>
<rect x="435.10" y="64.70" width="13.90" height="2.30" fill="#1d4f8b"/>
<line x1="449.00" y1="65.85" x2="451.50" y2="65.85" stroke="#231f20" stroke-width="0.9"/>
<line x1="451.50" y1="64.75" x2="451.50" y2="66.95" stroke="#231f20" stroke-width="0.9"/>
<rect x="435.10" y="68.80" width="11.10" height="2.30" fill="#c8102e"/>
<line x1="446.20" y1="69.95" x2="448.50" y2="69.95" stroke="#231f20" stroke-width="0.9"/>
<line x1="448.50" y1="68.85" x2="448.50" y2="71.05" stroke="#231f20" stroke-width="0.9"/>
<rect x="435.10" y="72.70" width="4.30" height="2.30" fill="#29a9e1"/>
<line x1="439.40" y1="73.85" x2="440.60" y2="73.85" stroke="#231f20" stroke-width="0.9"/>
<line x1="440.60" y1="72.75" x2="440.60" y2="74.95" stroke="#231f20" stroke-width="0.9"/>
<line x1="432.60" y1="84.50" x2="434.60" y2="84.50" stroke="#231f20" stroke-width="0.8"/>
<text x="407.50" y="86.50" font-size="6.40" stroke="#231f20" stroke-width="0.179" textLength="23.30" lengthAdjust="spacingAndGlyphs">SUP-M2</text>
<rect x="435.10" y="79.50" width="7.60" height="2.30" fill="#1d4f8b"/>
<line x1="442.70" y1="80.65" x2="446.70" y2="80.65" stroke="#231f20" stroke-width="0.9"/>
<line x1="446.70" y1="79.55" x2="446.70" y2="81.75" stroke="#231f20" stroke-width="0.9"/>
<rect x="435.10" y="83.40" width="14.90" height="2.30" fill="#c8102e"/>
<line x1="450.00" y1="84.55" x2="459.60" y2="84.55" stroke="#231f20" stroke-width="0.9"/>
<line x1="459.60" y1="83.45" x2="459.60" y2="85.65" stroke="#231f20" stroke-width="0.9"/>
<rect x="435.10" y="87.20" width="36.10" height="2.30" fill="#29a9e1"/>
<line x1="471.20" y1="88.35" x2="483.70" y2="88.35" stroke="#231f20" stroke-width="0.9"/>
<line x1="483.70" y1="87.25" x2="483.70" y2="89.45" stroke="#231f20" stroke-width="0.9"/>
<line x1="432.60" y1="99.50" x2="434.60" y2="99.50" stroke="#231f20" stroke-width="0.8"/>
<text x="418.50" y="101.20" font-size="6.40" stroke="#231f20" stroke-width="0.179" textLength="12.30" lengthAdjust="spacingAndGlyphs">DEL</text>
<rect x="435.10" y="94.20" width="12.90" height="2.30" fill="#1d4f8b"/>
<line x1="448.00" y1="95.35" x2="452.90" y2="95.35" stroke="#231f20" stroke-width="0.9"/>
<line x1="452.90" y1="94.25" x2="452.90" y2="96.45" stroke="#231f20" stroke-width="0.9"/>
<rect x="435.10" y="98.00" width="2.90" height="2.30" fill="#c8102e"/>
<line x1="438.00" y1="99.15" x2="440.40" y2="99.15" stroke="#231f20" stroke-width="0.9"/>
<line x1="440.40" y1="98.05" x2="440.40" y2="100.25" stroke="#231f20" stroke-width="0.9"/>
<rect x="435.10" y="101.80" width="10.10" height="2.30" fill="#29a9e1"/>
<line x1="445.20" y1="102.95" x2="448.50" y2="102.95" stroke="#231f20" stroke-width="0.9"/>
<line x1="448.50" y1="101.85" x2="448.50" y2="104.05" stroke="#231f20" stroke-width="0.9"/>
<text x="426.20" y="129.50" font-size="8.14" stroke="#231f20" stroke-width="0.228" textLength="78.40" lengthAdjust="spacingAndGlyphs">IL-10 fold change expression</text>
<text x="430.20" y="137.90" font-size="6.83" stroke="#231f20" stroke-width="0.191" textLength="69.40" lengthAdjust="spacingAndGlyphs">(normalized to NT sgRNA)</text>
<text x="84.80" y="170.90" font-size="8.43" stroke="#231f20" stroke-width="0.236" textLength="14.60" lengthAdjust="spacingAndGlyphs">IL10</text>
<rect x="59.30" y="175.60" width="65.10" height="80.60" fill="#fbfbfb"/>
<rect x="59.30" y="186.80" width="65.10" height="11.60" fill="#f1f2f3"/>
<line x1="59.30" y1="186.80" x2="124.40" y2="186.80" stroke="#dcdcdc" stroke-width="0.5"/>
<rect x="59.30" y="198.50" width="65.10" height="11.60" fill="#f4f5f6"/>
<line x1="59.30" y1="198.50" x2="124.40" y2="198.50" stroke="#dcdcdc" stroke-width="0.5"/>
<rect x="59.30" y="210.10" width="65.10" height="11.60" fill="#f1f2f3"/>
<line x1="59.30" y1="210.10" x2="124.40" y2="210.10" stroke="#dcdcdc" stroke-width="0.5"/>
<rect x="59.30" y="221.70" width="65.10" height="11.60" fill="#f4f5f6"/>
<line x1="59.30" y1="221.70" x2="124.40" y2="221.70" stroke="#dcdcdc" stroke-width="0.5"/>
<rect x="59.30" y="233.30" width="65.10" height="11.60" fill="#f1f2f3"/>
<line x1="59.30" y1="233.30" x2="124.40" y2="233.30" stroke="#dcdcdc" stroke-width="0.5"/>
<rect x="59.30" y="244.90" width="65.10" height="11.60" fill="#f4f5f6"/>
<line x1="59.30" y1="244.90" x2="124.40" y2="244.90" stroke="#dcdcdc" stroke-width="0.5"/>
<text x="122.80" y="191.30" font-size="5.20" text-anchor="end" fill="#333" stroke="#333" stroke-width="0.146">160</text>
<text x="122.80" y="203.00" font-size="5.20" text-anchor="end" fill="#333" stroke="#333" stroke-width="0.146">160</text>
<text x="122.80" y="214.60" font-size="5.20" text-anchor="end" fill="#333" stroke="#333" stroke-width="0.146">160</text>
<text x="122.80" y="226.20" font-size="5.20" text-anchor="end" fill="#333" stroke="#333" stroke-width="0.146">110</text>
<text x="122.80" y="237.80" font-size="5.20" text-anchor="end" fill="#333" stroke="#333" stroke-width="0.146">110</text>
<text x="122.80" y="249.40" font-size="5.20" text-anchor="end" fill="#333" stroke="#333" stroke-width="0.146">110</text>
<text x="149.00" y="170.90" font-size="8.43" stroke="#231f20" stroke-width="0.236" textLength="24.50" lengthAdjust="spacingAndGlyphs">IL10RA</text>
<rect x="129.30" y="175.60" width="64.30" height="80.60" fill="#fbfbfb"/>
<rect x="129.30" y="186.80" width="64.30" height="11.60" fill="#f1f2f3"/>
<line x1="129.30" y1="186.80" x2="193.60" y2="186.80" stroke="#dcdcdc" stroke-width="0.5"/>
<rect x="129.30" y="198.50" width="64.30" height="11.60" fill="#f4f5f6"/>
<line x1="129.30" y1="198.50" x2="193.60" y2="198.50" stroke="#dcdcdc" stroke-width="0.5"/>
<rect x="129.30" y="210.10" width="64.30" height="11.60" fill="#f1f2f3"/>
<line x1="129.30" y1="210.10" x2="193.60" y2="210.10" stroke="#dcdcdc" stroke-width="0.5"/>
<rect x="129.30" y="221.70" width="64.30" height="11.60" fill="#f4f5f6"/>
<line x1="129.30" y1="221.70" x2="193.60" y2="221.70" stroke="#dcdcdc" stroke-width="0.5"/>
<rect x="129.30" y="233.30" width="64.30" height="11.60" fill="#f1f2f3"/>
<line x1="129.30" y1="233.30" x2="193.60" y2="233.30" stroke="#dcdcdc" stroke-width="0.5"/>
<rect x="129.30" y="244.90" width="64.30" height="11.60" fill="#f4f5f6"/>
<line x1="129.30" y1="244.90" x2="193.60" y2="244.90" stroke="#dcdcdc" stroke-width="0.5"/>
<text x="192.00" y="191.30" font-size="5.20" text-anchor="end" fill="#333" stroke="#333" stroke-width="0.146">30</text>
<text x="192.00" y="203.00" font-size="5.20" text-anchor="end" fill="#333" stroke="#333" stroke-width="0.146">30</text>
<text x="192.00" y="214.60" font-size="5.20" text-anchor="end" fill="#333" stroke="#333" stroke-width="0.146">30</text>
<text x="192.00" y="226.20" font-size="5.20" text-anchor="end" fill="#333" stroke="#333" stroke-width="0.146">20</text>
<text x="192.00" y="237.80" font-size="5.20" text-anchor="end" fill="#333" stroke="#333" stroke-width="0.146">20</text>
<text x="192.00" y="249.40" font-size="5.20" text-anchor="end" fill="#333" stroke="#333" stroke-width="0.146">20</text>
<text x="224.60" y="170.90" font-size="8.43" stroke="#231f20" stroke-width="0.236" textLength="19.40" lengthAdjust="spacingAndGlyphs">IL0RB</text>
<rect x="198.30" y="175.60" width="71.30" height="80.60" fill="#fbfbfb"/>
<rect x="198.30" y="186.80" width="71.30" height="11.60" fill="#f1f2f3"/>
<line x1="198.30" y1="186.80" x2="269.60" y2="186.80" stroke="#dcdcdc" stroke-width="0.5"/>
<rect x="198.30" y="198.50" width="71.30" height="11.60" fill="#f4f5f6"/>
<line x1="198.30" y1="198.50" x2="269.60" y2="198.50" stroke="#dcdcdc" stroke-width="0.5"/>
<rect x="198.30" y="210.10" width="71.30" height="11.60" fill="#f1f2f3"/>
<line x1="198.30" y1="210.10" x2="269.60" y2="210.10" stroke="#dcdcdc" stroke-width="0.5"/>
<rect x="198.30" y="221.70" width="71.30" height="11.60" fill="#f4f5f6"/>
<line x1="198.30" y1="221.70" x2="269.60" y2="221.70" stroke="#dcdcdc" stroke-width="0.5"/>
<rect x="198.30" y="233.30" width="71.30" height="11.60" fill="#f1f2f3"/>
<line x1="198.30" y1="233.30" x2="269.60" y2="233.30" stroke="#dcdcdc" stroke-width="0.5"/>
<rect x="198.30" y="244.90" width="71.30" height="11.60" fill="#f4f5f6"/>
<line x1="198.30" y1="244.90" x2="269.60" y2="244.90" stroke="#dcdcdc" stroke-width="0.5"/>
<text x="268.00" y="191.30" font-size="5.20" text-anchor="end" fill="#333" stroke="#333" stroke-width="0.146">45</text>
<text x="268.00" y="203.00" font-size="5.20" text-anchor="end" fill="#333" stroke="#333" stroke-width="0.146">45</text>
<text x="268.00" y="214.60" font-size="5.20" text-anchor="end" fill="#333" stroke="#333" stroke-width="0.146">45</text>
<text x="268.00" y="226.20" font-size="5.20" text-anchor="end" fill="#333" stroke="#333" stroke-width="0.146">35</text>
<text x="268.00" y="237.80" font-size="5.20" text-anchor="end" fill="#333" stroke="#333" stroke-width="0.146">35</text>
<text x="268.00" y="249.40" font-size="5.20" text-anchor="end" fill="#333" stroke="#333" stroke-width="0.146">35</text>
<path d="M60.30 198.00 L60.30 197.49 L60.80 198.00 L61.30 198.00 L61.80 198.00 L62.30 198.00 L62.80 198.00 L63.30 198.00 L63.80 197.98 L64.30 198.00 L64.80 198.00 L65.30 198.00 L65.80 197.73 L66.30 198.00 L66.80 197.43 L67.30 198.00 L67.80 197.97 L68.30 197.90 L68.80 197.55 L69.30 196.52 L69.80 194.24 L70.30 191.83 L70.80 190.45 L71.30 191.14 L71.80 193.34 L72.30 195.56 L72.80 197.25 L73.30 197.31 L73.80 197.97 L74.30 198.00 L74.80 197.40 L75.30 198.00 L75.80 197.80 L76.30 198.00 L76.80 197.99 L77.30 197.96 L77.80 197.89 L78.30 197.78 L78.80 197.59 L79.30 197.36 L79.80 197.14 L80.30 197.01 L80.80 197.03 L81.30 197.18 L81.80 197.41 L82.30 197.49 L82.80 197.80 L83.30 197.91 L83.80 197.64 L84.30 197.99 L84.80 198.00 L85.30 198.00 L85.80 197.99 L86.30 197.98 L86.80 197.93 L87.30 197.83 L87.80 197.64 L88.30 197.34 L88.80 196.95 L89.30 196.62 L89.80 196.42 L90.30 196.44 L90.80 196.69 L91.30 196.75 L91.80 197.41 L92.30 197.69 L92.80 197.86 L93.30 197.94 L93.80 197.67 L94.30 197.99 L94.80 197.97 L95.30 197.82 L95.80 197.26 L96.30 195.73 L96.80 192.94 L97.30 189.35 L97.80 188.40 L98.30 189.82 L98.80 192.94 L99.30 195.73 L99.80 197.26 L100.30 197.82 L100.80 197.97 L101.30 197.47 L101.80 198.00 L102.30 197.70 L102.80 198.00 L103.30 198.00 L103.80 198.00 L104.30 198.00 L104.80 198.00 L105.30 198.00 L105.80 198.00 L106.30 197.86 L106.80 197.62 L107.30 197.84 L107.80 197.38 L108.30 196.26 L108.80 194.35 L109.30 192.31 L109.80 191.40 L110.30 192.31 L110.80 194.34 L111.30 195.80 L111.80 197.32 L112.30 197.84 L112.80 197.97 L113.30 197.90 L113.80 198.00 L114.30 197.84 L114.80 198.00 L115.30 198.00 L115.80 198.00 L116.30 198.00 L116.80 197.77 L117.30 198.00 L117.80 197.93 L118.30 198.00 L118.80 198.00 L119.30 197.64 L119.80 198.00 L120.30 197.99 L120.80 197.57 L121.30 197.58 L121.80 198.00 L122.30 198.00 L122.80 197.41 L123.30 198.00 L123.40 198.00 Z" fill="#e8262e"/>
<line x1="60.30" y1="197.75" x2="123.40" y2="197.75" stroke="#e8262e" stroke-width="0.45" opacity="0.7"/>
<path d="M60.30 209.40 L60.30 209.40 L60.80 209.40 L61.30 209.37 L61.80 209.40 L62.30 209.40 L62.80 209.40 L63.30 209.40 L63.80 209.40 L64.30 209.40 L64.80 209.40 L65.30 209.23 L65.80 209.40 L66.30 209.40 L66.80 209.40 L67.30 209.40 L67.80 209.40 L68.30 209.40 L68.80 209.40 L69.30 209.39 L69.80 209.40 L70.30 209.40 L70.80 209.40 L71.30 209.40 L71.80 209.40 L72.30 209.40 L72.80 209.39 L73.30 209.37 L73.80 209.08 L74.30 209.09 L74.80 208.92 L75.30 208.59 L75.80 209.14 L76.30 209.31 L76.80 209.38 L77.30 209.40 L77.80 209.40 L78.30 209.40 L78.80 209.40 L79.30 209.40 L79.80 209.10 L80.30 209.40 L80.80 209.40 L81.30 209.40 L81.80 209.40 L82.30 209.40 L82.80 209.40 L83.30 209.40 L83.80 209.40 L84.30 209.40 L84.80 209.40 L85.30 209.40 L85.80 209.40 L86.30 209.40 L86.80 209.40 L87.30 209.40 L87.80 209.27 L88.30 209.40 L88.80 209.04 L89.30 209.40 L89.80 209.40 L90.30 209.40 L90.80 209.40 L91.30 209.40 L91.80 209.40 L92.30 209.40 L92.80 209.40 L93.30 209.40 L93.80 209.40 L94.30 209.20 L94.80 209.40 L95.30 209.40 L95.80 209.07 L96.30 209.37 L96.80 209.28 L97.30 208.80 L97.80 208.66 L98.30 208.94 L98.80 208.79 L99.30 209.10 L99.80 209.38 L100.30 209.31 L100.80 209.40 L101.30 209.40 L101.80 209.40 L102.30 209.26 L102.80 209.13 L103.30 209.02 L103.80 209.11 L104.30 209.30 L104.80 209.40 L105.30 209.33 L105.80 209.40 L106.30 209.40 L106.80 209.00 L107.30 209.39 L107.80 209.40 L108.30 209.37 L108.80 209.28 L109.30 208.96 L109.80 208.74 L110.30 208.94 L110.80 209.14 L111.30 209.31 L111.80 209.38 L112.30 209.40 L112.80 209.40 L113.30 209.40 L113.80 209.14 L114.30 209.40 L114.80 209.22 L115.30 209.40 L115.80 209.17 L116.30 209.40 L116.80 209.40 L117.30 209.02 L117.80 209.40 L118.30 209.40 L118.80 209.40 L119.30 209.18 L119.80 209.38 L120.30 209.34 L120.80 209.15 L121.30 209.40 L121.80 209.40 L122.30 209.40 L122.80 209.40 L123.30 209.22 L123.40 209.40 Z" fill="#4a8fd3"/>
<line x1="60.30" y1="209.10" x2="123.40" y2="209.10" stroke="#4a8fd3" stroke-width="0.5" stroke-dasharray="1.0 1.8" opacity="0.75"/>
<path d="M60.30 221.00 L60.30 220.84 L60.80 221.00 L61.30 221.00 L61.80 221.00 L62.30 221.00 L62.80 221.00 L63.30 221.00 L63.80 220.70 L64.30 221.00 L64.80 221.00 L65.30 221.00 L65.80 221.00 L66.30 220.81 L66.80 221.00 L67.30 221.00 L67.80 221.00 L68.30 221.00 L68.80 220.77 L69.30 221.00 L69.80 221.00 L70.30 220.74 L70.80 221.00 L71.30 221.00 L71.80 221.00 L72.30 221.00 L72.80 221.00 L73.30 221.00 L73.80 221.00 L74.30 221.00 L74.80 221.00 L75.30 221.00 L75.80 220.96 L76.30 220.71 L76.80 221.00 L77.30 221.00 L77.80 221.00 L78.30 221.00 L78.80 221.00 L79.30 221.00 L79.80 221.00 L80.30 221.00 L80.80 221.00 L81.30 221.00 L81.80 221.00 L82.30 221.00 L82.80 221.00 L83.30 221.00 L83.80 220.74 L84.30 221.00 L84.80 221.00 L85.30 221.00 L85.80 221.00 L86.30 220.75 L86.80 221.00 L87.30 221.00 L87.80 220.74 L88.30 221.00 L88.80 220.76 L89.30 221.00 L89.80 220.91 L90.30 221.00 L90.80 221.00 L91.30 220.82 L91.80 220.78 L92.30 221.00 L92.80 221.00 L93.30 221.00 L93.80 221.00 L94.30 221.00 L94.80 221.00 L95.30 220.82 L95.80 220.94 L96.30 221.00 L96.80 221.00 L97.30 220.99 L97.80 221.00 L98.30 221.00 L98.80 221.00 L99.30 221.00 L99.80 221.00 L100.30 221.00 L100.80 221.00 L101.30 221.00 L101.80 221.00 L102.30 221.00 L102.80 221.00 L103.30 221.00 L103.80 221.00 L104.30 221.00 L104.80 221.00 L105.30 220.91 L105.80 221.00 L106.30 221.00 L106.80 221.00 L107.30 220.88 L107.80 221.00 L108.30 220.82 L108.80 221.00 L109.30 220.81 L109.80 221.00 L110.30 221.00 L110.80 221.00 L111.30 221.00 L111.80 221.00 L112.30 220.98 L112.80 221.00 L113.30 221.00 L113.80 221.00 L114.30 221.00 L114.80 221.00 L115.30 221.00 L115.80 221.00 L116.30 221.00 L116.80 221.00 L117.30 221.00 L117.80 221.00 L118.30 221.00 L118.80 221.00 L119.30 220.83 L119.80 221.00 L120.30 221.00 L120.80 220.76 L121.30 220.94 L121.80 221.00 L122.30 221.00 L122.80 220.90 L123.30 221.00 L123.40 221.00 Z" fill="#8a8a8a"/>
<line x1="60.30" y1="220.70" x2="123.40" y2="220.70" stroke="#8a8a8a" stroke-width="0.5" stroke-dasharray="1.0 1.8" opacity="0.75"/>
<path d="M60.30 232.60 L60.30 232.54 L60.80 232.60 L61.30 232.56 L61.80 232.60 L62.30 232.60 L62.80 232.60 L63.30 232.60 L63.80 232.28 L64.30 232.60 L64.80 232.54 L65.30 232.04 L65.80 232.60 L66.30 232.60 L66.80 232.60 L67.30 232.41 L67.80 232.55 L68.30 232.36 L68.80 231.72 L69.30 230.23 L69.80 227.59 L70.30 225.99 L70.80 225.78 L71.30 227.20 L71.80 229.25 L72.30 231.50 L72.80 232.28 L73.30 232.53 L73.80 232.59 L74.30 232.60 L74.80 232.60 L75.30 232.60 L75.80 232.60 L76.30 232.59 L76.80 232.58 L77.30 232.55 L77.80 232.29 L78.30 232.33 L78.80 232.08 L79.30 231.83 L79.80 231.57 L80.30 231.41 L80.80 231.43 L81.30 231.62 L81.80 231.89 L82.30 231.91 L82.80 231.99 L83.30 232.49 L83.80 232.56 L84.30 232.59 L84.80 232.59 L85.30 232.59 L85.80 232.58 L86.30 232.50 L86.80 231.98 L87.30 232.26 L87.80 231.79 L88.30 231.36 L88.80 230.89 L89.30 231.12 L89.80 231.14 L90.30 231.37 L90.80 231.71 L91.30 231.87 L91.80 232.31 L92.30 232.47 L92.80 232.55 L93.30 232.58 L93.80 232.59 L94.30 232.60 L94.80 232.57 L95.30 232.17 L95.80 231.68 L96.30 230.47 L96.80 227.85 L97.30 224.90 L97.80 223.13 L98.30 224.93 L98.80 227.85 L99.30 229.88 L99.80 231.90 L100.30 232.40 L100.80 232.47 L101.30 232.60 L101.80 232.58 L102.30 232.60 L102.80 232.00 L103.30 232.28 L103.80 232.60 L104.30 232.60 L104.80 232.60 L105.30 232.60 L105.80 232.35 L106.30 232.34 L106.80 232.04 L107.30 232.45 L107.80 232.04 L108.30 230.86 L108.80 229.15 L109.30 226.90 L109.80 226.57 L110.30 227.43 L110.80 229.28 L111.30 231.02 L111.80 232.04 L112.30 232.45 L112.80 232.57 L113.30 232.60 L113.80 232.60 L114.30 232.60 L114.80 232.47 L115.30 232.60 L115.80 232.60 L116.30 232.60 L116.80 232.60 L117.30 232.60 L117.80 232.60 L118.30 232.60 L118.80 232.60 L119.30 232.60 L119.80 232.60 L120.30 232.60 L120.80 232.60 L121.30 232.60 L121.80 232.60 L122.30 232.02 L122.80 232.60 L123.30 232.60 L123.40 232.60 Z" fill="#e8262e"/>
<line x1="60.30" y1="232.35" x2="123.40" y2="232.35" stroke="#e8262e" stroke-width="0.45" opacity="0.7"/>
<path d="M60.30 244.20 L60.30 244.20 L60.80 244.20 L61.30 244.20 L61.80 244.20 L62.30 244.20 L62.80 244.20 L63.30 244.01 L63.80 244.20 L64.30 244.20 L64.80 244.20 L65.30 244.01 L65.80 243.98 L66.30 244.20 L66.80 244.11 L67.30 244.20 L67.80 244.20 L68.30 244.20 L68.80 243.88 L69.30 243.95 L69.80 244.19 L70.30 244.17 L70.80 243.97 L71.30 243.83 L71.80 243.62 L72.30 243.65 L72.80 243.88 L73.30 244.09 L73.80 244.18 L74.30 243.82 L74.80 244.20 L75.30 244.20 L75.80 244.20 L76.30 244.20 L76.80 244.20 L77.30 244.14 L77.80 244.08 L78.30 244.20 L78.80 243.93 L79.30 244.20 L79.80 244.20 L80.30 244.20 L80.80 244.20 L81.30 244.20 L81.80 244.20 L82.30 244.20 L82.80 243.81 L83.30 243.90 L83.80 244.20 L84.30 243.88 L84.80 244.20 L85.30 244.20 L85.80 244.18 L86.30 243.82 L86.80 243.90 L87.30 244.20 L87.80 244.20 L88.30 244.20 L88.80 244.20 L89.30 244.20 L89.80 244.20 L90.30 243.90 L90.80 244.20 L91.30 244.20 L91.80 243.82 L92.30 244.06 L92.80 244.20 L93.30 244.20 L93.80 244.20 L94.30 244.20 L94.80 244.20 L95.30 244.20 L95.80 244.20 L96.30 244.14 L96.80 243.78 L97.30 243.83 L97.80 243.60 L98.30 243.65 L98.80 243.88 L99.30 244.09 L99.80 243.94 L100.30 244.20 L100.80 244.20 L101.30 244.20 L101.80 243.83 L102.30 244.00 L102.80 244.20 L103.30 243.91 L103.80 244.20 L104.30 244.20 L104.80 244.20 L105.30 244.03 L105.80 243.86 L106.30 244.20 L106.80 244.20 L107.30 244.20 L107.80 244.20 L108.30 244.20 L108.80 244.20 L109.30 244.20 L109.80 244.20 L110.30 244.20 L110.80 244.20 L111.30 244.20 L111.80 244.05 L112.30 244.20 L112.80 244.20 L113.30 244.20 L113.80 244.20 L114.30 244.20 L114.80 244.09 L115.30 244.20 L115.80 244.20 L116.30 244.20 L116.80 244.20 L117.30 244.20 L117.80 244.20 L118.30 244.20 L118.80 244.20 L119.30 244.20 L119.80 244.20 L120.30 244.20 L120.80 244.20 L121.30 244.20 L121.80 244.20 L122.30 244.20 L122.80 244.20 L123.30 244.20 L123.40 244.20 Z" fill="#4a8fd3"/>
<line x1="60.30" y1="243.90" x2="123.40" y2="243.90" stroke="#4a8fd3" stroke-width="0.5" stroke-dasharray="1.0 1.8" opacity="0.75"/>
<path d="M60.30 254.60 L60.30 254.60 L60.80 254.60 L61.30 254.60 L61.80 254.60 L62.30 254.40 L62.80 254.60 L63.30 254.60 L63.80 254.60 L64.30 254.60 L64.80 254.60 L65.30 254.60 L65.80 254.60 L66.30 254.60 L66.80 254.60 L67.30 254.60 L67.80 254.43 L68.30 254.60 L68.80 254.60 L69.30 254.60 L69.80 254.60 L70.30 254.60 L70.80 254.60 L71.30 254.36 L71.80 254.60 L72.30 254.60 L72.80 254.54 L73.30 254.60 L73.80 254.60 L74.30 254.60 L74.80 254.60 L75.30 254.40 L75.80 254.60 L76.30 254.60 L76.80 254.60 L77.30 254.60 L77.80 254.60 L78.30 254.60 L78.80 254.60 L79.30 254.60 L79.80 254.49 L80.30 254.60 L80.80 254.60 L81.30 254.60 L81.80 254.34 L82.30 254.60 L82.80 254.40 L83.30 254.60 L83.80 254.45 L84.30 254.54 L84.80 254.60 L85.30 254.60 L85.80 254.37 L86.30 254.50 L86.80 254.60 L87.30 254.60 L87.80 254.60 L88.30 254.60 L88.80 254.60 L89.30 254.30 L89.80 254.47 L90.30 254.60 L90.80 254.60 L91.30 254.60 L91.80 254.31 L92.30 254.60 L92.80 254.60 L93.30 254.60 L93.80 254.60 L94.30 254.60 L94.80 254.60 L95.30 254.60 L95.80 254.60 L96.30 254.60 L96.80 254.60 L97.30 254.38 L97.80 254.60 L98.30 254.60 L98.80 254.60 L99.30 254.59 L99.80 254.42 L100.30 254.60 L100.80 254.60 L101.30 254.60 L101.80 254.60 L102.30 254.60 L102.80 254.60 L103.30 254.60 L103.80 254.60 L104.30 254.60 L104.80 254.60 L105.30 254.60 L105.80 254.49 L106.30 254.60 L106.80 254.60 L107.30 254.60 L107.80 254.60 L108.30 254.60 L108.80 254.60 L109.30 254.60 L109.80 254.60 L110.30 254.60 L110.80 254.60 L111.30 254.60 L111.80 254.60 L112.30 254.60 L112.80 254.60 L113.30 254.47 L113.80 254.59 L114.30 254.60 L114.80 254.38 L115.30 254.60 L115.80 254.60 L116.30 254.60 L116.80 254.54 L117.30 254.60 L117.80 254.60 L118.30 254.60 L118.80 254.60 L119.30 254.60 L119.80 254.60 L120.30 254.60 L120.80 254.49 L121.30 254.41 L121.80 254.60 L122.30 254.41 L122.80 254.57 L123.30 254.60 L123.40 254.60 Z" fill="#8a8a8a"/>
<line x1="60.30" y1="254.30" x2="123.40" y2="254.30" stroke="#8a8a8a" stroke-width="0.5" stroke-dasharray="1.0 1.8" opacity="0.75"/>
<path d="M130.30 198.00 L130.30 198.00 L130.80 198.00 L131.30 198.00 L131.80 197.97 L132.30 197.63 L132.80 195.90 L133.30 191.55 L133.80 189.60 L134.30 192.04 L134.80 195.48 L135.30 196.34 L135.80 196.74 L136.30 195.08 L136.80 196.12 L137.30 196.73 L137.80 197.04 L138.30 196.77 L138.80 196.43 L139.30 196.29 L139.80 196.84 L140.30 197.08 L140.80 196.73 L141.30 196.23 L141.80 196.34 L142.30 196.98 L142.80 197.38 L143.30 197.19 L143.80 196.84 L144.30 196.90 L144.80 197.37 L145.30 197.78 L145.80 197.95 L146.30 197.99 L146.80 198.00 L147.30 197.71 L147.80 197.23 L148.30 198.00 L148.80 198.00 L149.30 198.00 L149.80 198.00 L150.30 198.00 L150.80 197.79 L151.30 198.00 L151.80 198.00 L152.30 198.00 L152.80 198.00 L153.30 197.37 L153.80 198.00 L154.30 198.00 L154.80 197.67 L155.30 198.00 L155.80 198.00 L156.30 197.75 L156.80 197.94 L157.30 198.00 L157.80 197.44 L158.30 198.00 L158.80 197.27 L159.30 197.36 L159.80 197.58 L160.30 197.73 L160.80 198.00 L161.30 198.00 L161.80 198.00 L162.30 198.00 L162.80 197.61 L163.30 198.00 L163.80 198.00 L164.30 197.01 L164.80 197.74 L165.30 198.00 L165.80 198.00 L166.30 198.00 L166.80 197.91 L167.30 198.00 L167.80 197.40 L168.30 198.00 L168.80 198.00 L169.30 198.00 L169.80 198.00 L170.30 198.00 L170.80 198.00 L171.30 197.85 L171.80 198.00 L172.30 198.00 L172.80 197.81 L173.30 198.00 L173.80 198.00 L174.30 197.05 L174.80 198.00 L175.30 198.00 L175.80 198.00 L176.30 197.96 L176.80 198.00 L177.30 197.30 L177.80 198.00 L178.30 198.00 L178.80 198.00 L179.30 198.00 L179.80 197.28 L180.30 197.77 L180.80 198.00 L181.30 198.00 L181.80 198.00 L182.30 198.00 L182.80 198.00 L183.30 197.98 L183.80 198.00 L184.30 198.00 L184.80 197.82 L185.30 198.00 L185.80 198.00 L186.30 197.64 L186.80 198.00 L187.30 198.00 L187.80 198.00 L188.30 198.00 L188.80 198.00 L189.30 197.96 L189.80 197.09 L190.30 198.00 L190.80 198.00 L191.30 197.36 L191.80 198.00 L192.30 198.00 L192.60 198.00 Z" fill="#e8262e"/>
<line x1="130.30" y1="197.75" x2="192.60" y2="197.75" stroke="#e8262e" stroke-width="0.45" opacity="0.7"/>
<path d="M130.30 209.40 L130.30 209.40 L130.80 209.40 L131.30 209.40 L131.80 209.38 L132.30 209.35 L132.80 209.19 L133.30 208.85 L133.80 208.54 L134.30 208.58 L134.80 208.92 L135.30 209.23 L135.80 208.74 L136.30 208.10 L136.80 208.18 L137.30 208.29 L137.80 209.13 L138.30 208.96 L138.80 208.77 L139.30 208.52 L139.80 208.51 L140.30 208.52 L140.80 207.25 L141.30 208.81 L141.80 208.41 L142.30 208.72 L142.80 209.27 L143.30 208.37 L143.80 209.14 L144.30 209.39 L144.80 209.40 L145.30 209.40 L145.80 209.40 L146.30 209.40 L146.80 209.40 L147.30 208.38 L147.80 209.40 L148.30 209.40 L148.80 209.40 L149.30 209.40 L149.80 209.40 L150.30 209.40 L150.80 209.40 L151.30 209.07 L151.80 209.40 L152.30 209.40 L152.80 209.40 L153.30 209.40 L153.80 208.25 L154.30 209.40 L154.80 209.40 L155.30 208.80 L155.80 209.40 L156.30 209.40 L156.80 208.63 L157.30 208.43 L157.80 209.01 L158.30 209.40 L158.80 209.40 L159.30 208.76 L159.80 209.01 L160.30 209.40 L160.80 209.40 L161.30 209.40 L161.80 209.40 L162.30 208.11 L162.80 209.40 L163.30 208.35 L163.80 209.40 L164.30 209.02 L164.80 209.40 L165.30 209.40 L165.80 209.39 L166.30 208.53 L166.80 209.40 L167.30 209.40 L167.80 209.40 L168.30 208.95 L168.80 209.40 L169.30 209.40 L169.80 209.40 L170.30 208.66 L170.80 209.40 L171.30 209.40 L171.80 209.40 L172.30 209.40 L172.80 209.40 L173.30 208.99 L173.80 209.40 L174.30 209.40 L174.80 209.40 L175.30 209.40 L175.80 209.40 L176.30 209.40 L176.80 209.00 L177.30 209.40 L177.80 209.40 L178.30 209.40 L178.80 208.16 L179.30 209.40 L179.80 208.79 L180.30 209.40 L180.80 209.40 L181.30 209.40 L181.80 209.40 L182.30 209.40 L182.80 209.40 L183.30 209.40 L183.80 209.40 L184.30 209.40 L184.80 209.40 L185.30 209.40 L185.80 209.40 L186.30 209.40 L186.80 209.40 L187.30 209.40 L187.80 208.41 L188.30 209.40 L188.80 209.40 L189.30 209.40 L189.80 209.40 L190.30 209.40 L190.80 209.40 L191.30 209.40 L191.80 208.91 L192.30 209.40 L192.60 209.40 Z" fill="#4a8fd3"/>
<line x1="130.30" y1="209.15" x2="192.60" y2="209.15" stroke="#4a8fd3" stroke-width="0.45" opacity="0.7"/>
<path d="M130.30 221.00 L130.30 221.00 L130.80 221.00 L131.30 221.00 L131.80 221.00 L132.30 220.75 L132.80 220.75 L133.30 221.00 L133.80 220.42 L134.30 220.68 L134.80 221.00 L135.30 221.00 L135.80 220.99 L136.30 220.67 L136.80 219.97 L137.30 220.85 L137.80 220.73 L138.30 220.56 L138.80 220.37 L139.30 220.20 L139.80 220.11 L140.30 220.12 L140.80 220.23 L141.30 220.41 L141.80 220.60 L142.30 220.76 L142.80 220.87 L143.30 220.94 L143.80 220.98 L144.30 220.99 L144.80 220.10 L145.30 221.00 L145.80 221.00 L146.30 221.00 L146.80 221.00 L147.30 221.00 L147.80 220.26 L148.30 221.00 L148.80 220.78 L149.30 221.00 L149.80 221.00 L150.30 221.00 L150.80 221.00 L151.30 221.00 L151.80 220.46 L152.30 220.74 L152.80 220.60 L153.30 220.28 L153.80 221.00 L154.30 221.00 L154.80 221.00 L155.30 221.00 L155.80 220.84 L156.30 221.00 L156.80 221.00 L157.30 221.00 L157.80 220.55 L158.30 221.00 L158.80 221.00 L159.30 221.00 L159.80 220.06 L160.30 221.00 L160.80 221.00 L161.30 219.93 L161.80 221.00 L162.30 221.00 L162.80 220.32 L163.30 221.00 L163.80 221.00 L164.30 221.00 L164.80 221.00 L165.30 221.00 L165.80 221.00 L166.30 220.25 L166.80 220.75 L167.30 220.29 L167.80 221.00 L168.30 221.00 L168.80 220.52 L169.30 221.00 L169.80 221.00 L170.30 221.00 L170.80 220.67 L171.30 221.00 L171.80 221.00 L172.30 220.48 L172.80 221.00 L173.30 221.00 L173.80 220.63 L174.30 221.00 L174.80 221.00 L175.30 221.00 L175.80 221.00 L176.30 221.00 L176.80 221.00 L177.30 220.45 L177.80 221.00 L178.30 221.00 L178.80 221.00 L179.30 221.00 L179.80 221.00 L180.30 221.00 L180.80 221.00 L181.30 221.00 L181.80 220.68 L182.30 220.61 L182.80 220.56 L183.30 220.17 L183.80 221.00 L184.30 220.15 L184.80 220.47 L185.30 221.00 L185.80 221.00 L186.30 221.00 L186.80 221.00 L187.30 220.05 L187.80 220.09 L188.30 220.67 L188.80 221.00 L189.30 220.86 L189.80 221.00 L190.30 221.00 L190.80 221.00 L191.30 221.00 L191.80 220.41 L192.30 220.12 L192.60 221.00 Z" fill="#8a8a8a"/>
<line x1="130.30" y1="220.75" x2="192.60" y2="220.75" stroke="#8a8a8a" stroke-width="0.45" opacity="0.7"/>
<path d="M130.30 232.60 L130.30 231.90 L130.80 232.60 L131.30 232.60 L131.80 232.57 L132.30 232.21 L132.80 230.40 L133.30 226.37 L133.80 223.80 L134.30 226.35 L134.80 230.26 L135.30 231.62 L135.80 230.81 L136.30 230.18 L136.80 230.25 L137.30 231.01 L137.80 231.40 L138.30 231.08 L138.80 230.09 L139.30 230.72 L139.80 230.65 L140.30 231.53 L140.80 231.71 L141.30 231.32 L141.80 230.67 L142.30 230.77 L142.80 231.55 L143.30 232.23 L143.80 232.52 L144.30 232.59 L144.80 232.01 L145.30 232.60 L145.80 232.51 L146.30 232.60 L146.80 232.60 L147.30 232.15 L147.80 231.80 L148.30 232.60 L148.80 231.78 L149.30 232.32 L149.80 231.86 L150.30 232.07 L150.80 232.12 L151.30 232.60 L151.80 232.60 L152.30 232.60 L152.80 232.60 L153.30 232.60 L153.80 232.60 L154.30 232.13 L154.80 231.73 L155.30 232.60 L155.80 232.46 L156.30 232.60 L156.80 232.60 L157.30 231.90 L157.80 232.60 L158.30 232.60 L158.80 232.60 L159.30 232.60 L159.80 232.60 L160.30 232.60 L160.80 232.60 L161.30 231.97 L161.80 232.60 L162.30 232.60 L162.80 232.60 L163.30 232.29 L163.80 232.60 L164.30 232.60 L164.80 232.60 L165.30 232.60 L165.80 232.60 L166.30 232.60 L166.80 232.45 L167.30 232.37 L167.80 232.60 L168.30 232.60 L168.80 232.00 L169.30 232.60 L169.80 232.60 L170.30 232.60 L170.80 232.60 L171.30 232.60 L171.80 232.60 L172.30 232.60 L172.80 232.60 L173.30 232.60 L173.80 232.60 L174.30 232.60 L174.80 232.60 L175.30 232.60 L175.80 232.60 L176.30 232.60 L176.80 232.60 L177.30 232.60 L177.80 232.60 L178.30 231.67 L178.80 232.60 L179.30 232.60 L179.80 232.60 L180.30 232.40 L180.80 232.60 L181.30 232.34 L181.80 232.60 L182.30 232.60 L182.80 232.60 L183.30 232.60 L183.80 232.60 L184.30 232.60 L184.80 232.60 L185.30 232.38 L185.80 231.87 L186.30 231.93 L186.80 231.95 L187.30 232.60 L187.80 232.60 L188.30 232.60 L188.80 232.60 L189.30 232.60 L189.80 232.19 L190.30 232.60 L190.80 232.60 L191.30 232.60 L191.80 232.60 L192.30 231.92 L192.60 232.60 Z" fill="#e8262e"/>
<line x1="130.30" y1="232.35" x2="192.60" y2="232.35" stroke="#e8262e" stroke-width="0.45" opacity="0.7"/>
<path d="M130.30 244.20 L130.30 244.20 L130.80 243.17 L131.30 242.82 L131.80 242.97 L132.30 244.18 L132.80 244.03 L133.30 243.46 L133.80 242.22 L134.30 242.81 L134.80 243.60 L135.30 244.05 L135.80 242.90 L136.30 244.02 L136.80 243.87 L137.30 242.37 L137.80 243.43 L138.30 242.59 L138.80 243.11 L139.30 242.33 L139.80 243.26 L140.30 243.48 L140.80 243.71 L141.30 243.91 L141.80 244.05 L142.30 244.13 L142.80 244.17 L143.30 244.19 L143.80 244.20 L144.30 244.00 L144.80 242.89 L145.30 244.20 L145.80 244.20 L146.30 244.20 L146.80 244.20 L147.30 244.20 L147.80 244.04 L148.30 243.54 L148.80 244.20 L149.30 244.20 L149.80 244.20 L150.30 244.20 L150.80 242.87 L151.30 244.20 L151.80 243.76 L152.30 244.20 L152.80 244.20 L153.30 244.20 L153.80 244.20 L154.30 244.20 L154.80 242.93 L155.30 244.20 L155.80 244.20 L156.30 243.51 L156.80 244.20 L157.30 244.20 L157.80 244.20 L158.30 244.20 L158.80 244.20 L159.30 242.95 L159.80 244.20 L160.30 243.50 L160.80 244.20 L161.30 244.20 L161.80 244.11 L162.30 244.20 L162.80 244.20 L163.30 244.20 L163.80 244.20 L164.30 244.20 L164.80 244.20 L165.30 244.20 L165.80 244.19 L166.30 244.20 L166.80 244.20 L167.30 244.20 L167.80 244.20 L168.30 244.20 L168.80 244.20 L169.30 244.20 L169.80 244.20 L170.30 244.20 L170.80 244.20 L171.30 244.20 L171.80 244.20 L172.30 243.26 L172.80 244.20 L173.30 244.20 L173.80 244.20 L174.30 243.85 L174.80 244.20 L175.30 244.20 L175.80 244.20 L176.30 244.20 L176.80 244.20 L177.30 244.20 L177.80 244.20 L178.30 244.20 L178.80 244.20 L179.30 243.96 L179.80 244.20 L180.30 244.20 L180.80 243.03 L181.30 244.20 L181.80 244.20 L182.30 244.20 L182.80 244.06 L183.30 244.20 L183.80 244.20 L184.30 244.20 L184.80 244.20 L185.30 244.20 L185.80 244.20 L186.30 244.20 L186.80 243.10 L187.30 243.28 L187.80 244.20 L188.30 244.20 L188.80 244.20 L189.30 244.20 L189.80 244.20 L190.30 244.20 L190.80 243.42 L191.30 244.20 L191.80 243.46 L192.30 244.20 L192.60 244.20 Z" fill="#4a8fd3"/>
<line x1="130.30" y1="243.95" x2="192.60" y2="243.95" stroke="#4a8fd3" stroke-width="0.45" opacity="0.7"/>
<path d="M130.30 254.60 L130.30 254.60 L130.80 254.60 L131.30 254.60 L131.80 254.60 L132.30 254.60 L132.80 254.56 L133.30 254.04 L133.80 252.63 L134.30 252.52 L134.80 254.23 L135.30 253.69 L135.80 254.60 L136.30 254.60 L136.80 254.60 L137.30 254.60 L137.80 254.60 L138.30 254.60 L138.80 254.60 L139.30 254.05 L139.80 254.60 L140.30 254.60 L140.80 254.23 L141.30 254.60 L141.80 254.60 L142.30 254.60 L142.80 254.60 L143.30 254.60 L143.80 254.60 L144.30 254.60 L144.80 253.43 L145.30 254.60 L145.80 254.60 L146.30 254.60 L146.80 254.41 L147.30 254.60 L147.80 254.60 L148.30 253.76 L148.80 254.60 L149.30 253.59 L149.80 254.60 L150.30 254.60 L150.80 254.60 L151.30 254.60 L151.80 254.60 L152.30 254.60 L152.80 254.60 L153.30 254.43 L153.80 254.11 L154.30 254.60 L154.80 254.60 L155.30 254.60 L155.80 254.60 L156.30 254.60 L156.80 254.60 L157.30 254.60 L157.80 254.60 L158.30 254.60 L158.80 254.60 L159.30 254.48 L159.80 254.45 L160.30 253.85 L160.80 254.60 L161.30 253.78 L161.80 254.60 L162.30 254.60 L162.80 253.83 L163.30 254.60 L163.80 254.59 L164.30 254.60 L164.80 254.60 L165.30 254.42 L165.80 254.60 L166.30 254.04 L166.80 254.60 L167.30 254.60 L167.80 254.56 L168.30 253.80 L168.80 254.60 L169.30 254.60 L169.80 254.34 L170.30 254.60 L170.80 254.46 L171.30 254.60 L171.80 254.60 L172.30 253.54 L172.80 254.60 L173.30 254.60 L173.80 254.38 L174.30 254.60 L174.80 254.60 L175.30 254.60 L175.80 254.09 L176.30 254.23 L176.80 254.60 L177.30 254.51 L177.80 254.60 L178.30 254.60 L178.80 254.60 L179.30 254.60 L179.80 254.60 L180.30 254.60 L180.80 254.60 L181.30 254.60 L181.80 253.84 L182.30 254.60 L182.80 254.60 L183.30 254.60 L183.80 254.60 L184.30 254.60 L184.80 254.60 L185.30 254.20 L185.80 253.75 L186.30 254.60 L186.80 254.60 L187.30 254.06 L187.80 254.60 L188.30 254.60 L188.80 254.13 L189.30 254.60 L189.80 253.52 L190.30 253.85 L190.80 253.45 L191.30 254.60 L191.80 254.00 L192.30 254.60 L192.60 254.60 Z" fill="#8a8a8a"/>
<line x1="130.30" y1="254.35" x2="192.60" y2="254.35" stroke="#8a8a8a" stroke-width="0.45" opacity="0.7"/>
<path d="M199.30 198.00 L199.30 197.66 L199.80 198.00 L200.30 198.00 L200.80 197.60 L201.30 197.83 L201.80 194.51 L202.30 188.50 L202.80 194.50 L203.30 197.83 L203.80 198.00 L204.30 197.60 L204.80 197.88 L205.30 197.50 L205.80 198.00 L206.30 198.00 L206.80 198.00 L207.30 197.84 L207.80 198.00 L208.30 197.52 L208.80 198.00 L209.30 197.59 L209.80 197.54 L210.30 198.00 L210.80 198.00 L211.30 198.00 L211.80 198.00 L212.30 197.98 L212.80 198.00 L213.30 197.61 L213.80 197.52 L214.30 198.00 L214.80 198.00 L215.30 198.00 L215.80 198.00 L216.30 198.00 L216.80 197.76 L217.30 198.00 L217.80 197.54 L218.30 198.00 L218.80 198.00 L219.30 198.00 L219.80 198.00 L220.30 198.00 L220.80 198.00 L221.30 198.00 L221.80 197.95 L222.30 198.00 L222.80 198.00 L223.30 198.00 L223.80 198.00 L224.30 198.00 L224.80 198.00 L225.30 197.70 L225.80 198.00 L226.30 198.00 L226.80 197.91 L227.30 198.00 L227.80 198.00 L228.30 198.00 L228.80 198.00 L229.30 198.00 L229.80 197.97 L230.30 198.00 L230.80 198.00 L231.30 198.00 L231.80 198.00 L232.30 198.00 L232.80 198.00 L233.30 198.00 L233.80 198.00 L234.30 198.00 L234.80 198.00 L235.30 198.00 L235.80 198.00 L236.30 198.00 L236.80 198.00 L237.30 197.56 L237.80 197.97 L238.30 198.00 L238.80 198.00 L239.30 198.00 L239.80 198.00 L240.30 197.87 L240.80 198.00 L241.30 198.00 L241.80 197.97 L242.30 198.00 L242.80 198.00 L243.30 198.00 L243.80 198.00 L244.30 198.00 L244.80 198.00 L245.30 198.00 L245.80 198.00 L246.30 198.00 L246.80 197.89 L247.30 198.00 L247.80 198.00 L248.30 198.00 L248.80 198.00 L249.30 198.00 L249.80 198.00 L250.30 198.00 L250.80 198.00 L251.30 198.00 L251.80 198.00 L252.30 198.00 L252.80 197.66 L253.30 198.00 L253.80 197.70 L254.30 198.00 L254.80 198.00 L255.30 198.00 L255.80 198.00 L256.30 198.00 L256.80 198.00 L257.30 198.00 L257.80 197.95 L258.30 197.99 L258.80 198.00 L259.30 197.57 L259.80 198.00 L260.30 197.73 L260.80 198.00 L261.30 198.00 L261.80 197.92 L262.30 197.81 L262.80 198.00 L263.30 198.00 L263.80 197.64 L264.30 198.00 L264.80 198.00 L265.30 198.00 L265.80 197.77 L266.30 197.62 L266.80 197.64 L267.30 198.00 L267.80 198.00 L268.30 198.00 L268.60 198.00 Z" fill="#e8262e"/>
<line x1="199.30" y1="197.70" x2="268.60" y2="197.70" stroke="#e8262e" stroke-width="0.5" stroke-dasharray="1.0 1.8" opacity="0.75"/>
<path d="M199.30 209.40 L199.30 209.40 L199.80 209.39 L200.30 209.39 L200.80 209.27 L201.30 209.03 L201.80 208.65 L202.30 208.70 L202.80 208.72 L203.30 209.34 L203.80 209.39 L204.30 209.40 L204.80 209.40 L205.30 209.40 L205.80 209.40 L206.30 209.05 L206.80 209.40 L207.30 209.40 L207.80 209.06 L208.30 209.40 L208.80 209.40 L209.30 209.40 L209.80 209.40 L210.30 209.40 L210.80 209.40 L211.30 209.40 L211.80 209.40 L212.30 209.40 L212.80 209.40 L213.30 209.40 L213.80 209.40 L214.30 209.40 L214.80 209.07 L215.30 209.40 L215.80 209.38 L216.30 209.40 L216.80 209.03 L217.30 209.40 L217.80 209.40 L218.30 209.40 L218.80 209.40 L219.30 209.40 L219.80 209.40 L220.30 209.40 L220.80 209.40 L221.30 209.40 L221.80 209.40 L222.30 209.40 L222.80 209.40 L223.30 209.40 L223.80 209.40 L224.30 209.00 L224.80 209.40 L225.30 209.40 L225.80 209.40 L226.30 209.40 L226.80 209.40 L227.30 209.40 L227.80 209.40 L228.30 209.04 L228.80 209.18 L229.30 209.40 L229.80 209.40 L230.30 209.40 L230.80 209.39 L231.30 209.40 L231.80 209.40 L232.30 209.40 L232.80 209.12 L233.30 209.24 L233.80 209.40 L234.30 209.40 L234.80 209.40 L235.30 209.40 L235.80 209.40 L236.30 209.40 L236.80 209.40 L237.30 209.40 L237.80 209.40 L238.30 209.40 L238.80 209.40 L239.30 209.40 L239.80 209.40 L240.30 209.40 L240.80 209.40 L241.30 209.40 L241.80 209.40 L242.30 209.20 L242.80 209.40 L243.30 209.40 L243.80 209.12 L244.30 209.40 L244.80 209.40 L245.30 209.01 L245.80 209.40 L246.30 209.31 L246.80 209.40 L247.30 209.40 L247.80 209.29 L248.30 209.21 L248.80 209.26 L249.30 209.40 L249.80 209.40 L250.30 209.40 L250.80 209.25 L251.30 209.40 L251.80 209.32 L252.30 209.40 L252.80 209.40 L253.30 209.40 L253.80 209.40 L254.30 209.40 L254.80 209.31 L255.30 209.40 L255.80 209.13 L256.30 209.04 L256.80 209.40 L257.30 209.20 L257.80 209.40 L258.30 209.21 L258.80 209.09 L259.30 209.15 L259.80 209.40 L260.30 209.40 L260.80 209.19 L261.30 209.26 L261.80 209.40 L262.30 209.40 L262.80 209.25 L263.30 209.40 L263.80 209.08 L264.30 209.40 L264.80 209.40 L265.30 209.40 L265.80 209.40 L266.30 209.40 L266.80 209.29 L267.30 209.06 L267.80 209.40 L268.30 209.40 L268.60 209.40 Z" fill="#4a8fd3"/>
<line x1="199.30" y1="209.10" x2="268.60" y2="209.10" stroke="#4a8fd3" stroke-width="0.5" stroke-dasharray="1.0 1.8" opacity="0.75"/>
<path d="M199.30 221.00 L199.30 221.00 L199.80 221.00 L200.30 221.00 L200.80 220.76 L201.30 221.00 L201.80 221.00 L202.30 220.92 L202.80 221.00 L203.30 220.82 L203.80 220.97 L204.30 221.00 L204.80 221.00 L205.30 221.00 L205.80 221.00 L206.30 221.00 L206.80 220.69 L207.30 221.00 L207.80 221.00 L208.30 221.00 L208.80 221.00 L209.30 221.00 L209.80 221.00 L210.30 221.00 L210.80 221.00 L211.30 221.00 L211.80 221.00 L212.30 220.81 L212.80 221.00 L213.30 221.00 L213.80 221.00 L214.30 221.00 L214.80 220.93 L215.30 221.00 L215.80 221.00 L216.30 220.95 L216.80 220.98 L217.30 221.00 L217.80 221.00 L218.30 221.00 L218.80 221.00 L219.30 221.00 L219.80 221.00 L220.30 221.00 L220.80 221.00 L221.30 221.00 L221.80 221.00 L222.30 220.69 L222.80 221.00 L223.30 221.00 L223.80 220.78 L224.30 221.00 L224.80 221.00 L225.30 221.00 L225.80 220.61 L226.30 220.83 L226.80 220.68 L227.30 221.00 L227.80 221.00 L228.30 221.00 L228.80 221.00 L229.30 221.00 L229.80 221.00 L230.30 221.00 L230.80 221.00 L231.30 221.00 L231.80 221.00 L232.30 220.97 L232.80 221.00 L233.30 220.63 L233.80 221.00 L234.30 220.96 L234.80 221.00 L235.30 220.78 L235.80 221.00 L236.30 221.00 L236.80 221.00 L237.30 221.00 L237.80 221.00 L238.30 221.00 L238.80 221.00 L239.30 221.00 L239.80 221.00 L240.30 221.00 L240.80 221.00 L241.30 221.00 L241.80 221.00 L242.30 221.00 L242.80 220.88 L243.30 221.00 L243.80 221.00 L244.30 221.00 L244.80 221.00 L245.30 221.00 L245.80 220.75 L246.30 221.00 L246.80 221.00 L247.30 221.00 L247.80 220.62 L248.30 220.78 L248.80 221.00 L249.30 220.78 L249.80 221.00 L250.30 221.00 L250.80 221.00 L251.30 220.85 L251.80 221.00 L252.30 220.65 L252.80 220.73 L253.30 220.82 L253.80 221.00 L254.30 220.72 L254.80 221.00 L255.30 221.00 L255.80 221.00 L256.30 221.00 L256.80 221.00 L257.30 221.00 L257.80 221.00 L258.30 220.65 L258.80 221.00 L259.30 221.00 L259.80 221.00 L260.30 221.00 L260.80 221.00 L261.30 221.00 L261.80 221.00 L262.30 221.00 L262.80 221.00 L263.30 221.00 L263.80 221.00 L264.30 221.00 L264.80 221.00 L265.30 221.00 L265.80 221.00 L266.30 221.00 L266.80 221.00 L267.30 221.00 L267.80 220.91 L268.30 221.00 L268.60 221.00 Z" fill="#8a8a8a"/>
<line x1="199.30" y1="220.70" x2="268.60" y2="220.70" stroke="#8a8a8a" stroke-width="0.5" stroke-dasharray="1.0 1.8" opacity="0.75"/>
<path d="M199.30 232.60 L199.30 232.60 L199.80 232.60 L200.30 231.90 L200.80 232.13 L201.30 231.90 L201.80 228.61 L202.30 223.10 L202.80 229.11 L203.30 232.43 L203.80 232.60 L204.30 232.60 L204.80 232.24 L205.30 232.60 L205.80 232.60 L206.30 232.60 L206.80 232.60 L207.30 232.60 L207.80 232.07 L208.30 232.60 L208.80 232.37 L209.30 232.60 L209.80 232.60 L210.30 232.60 L210.80 232.60 L211.30 232.60 L211.80 232.60 L212.30 232.60 L212.80 232.53 L213.30 232.60 L213.80 232.60 L214.30 232.60 L214.80 232.60 L215.30 232.60 L215.80 232.60 L216.30 232.60 L216.80 232.60 L217.30 232.25 L217.80 232.50 L218.30 232.60 L218.80 232.60 L219.30 232.60 L219.80 232.25 L220.30 232.60 L220.80 232.60 L221.30 232.60 L221.80 232.16 L222.30 232.59 L222.80 232.37 L223.30 231.24 L223.80 231.48 L224.30 232.48 L224.80 232.60 L225.30 232.60 L225.80 232.60 L226.30 232.60 L226.80 232.20 L227.30 232.60 L227.80 232.60 L228.30 232.34 L228.80 232.28 L229.30 232.60 L229.80 232.60 L230.30 232.60 L230.80 231.91 L231.30 232.60 L231.80 232.60 L232.30 232.60 L232.80 232.60 L233.30 232.60 L233.80 232.60 L234.30 232.39 L234.80 232.60 L235.30 232.60 L235.80 232.60 L236.30 232.60 L236.80 232.60 L237.30 232.42 L237.80 232.60 L238.30 232.60 L238.80 232.60 L239.30 232.60 L239.80 232.60 L240.30 232.60 L240.80 232.60 L241.30 232.60 L241.80 232.60 L242.30 232.60 L242.80 232.60 L243.30 232.28 L243.80 232.05 L244.30 232.60 L244.80 232.60 L245.30 232.60 L245.80 232.29 L246.30 232.57 L246.80 232.60 L247.30 231.95 L247.80 232.60 L248.30 232.60 L248.80 231.96 L249.30 232.60 L249.80 232.47 L250.30 232.25 L250.80 232.04 L251.30 232.60 L251.80 232.60 L252.30 232.60 L252.80 232.60 L253.30 232.60 L253.80 232.60 L254.30 232.60 L254.80 232.60 L255.30 232.60 L255.80 232.60 L256.30 232.60 L256.80 232.49 L257.30 231.92 L257.80 232.60 L258.30 232.60 L258.80 232.17 L259.30 232.38 L259.80 232.60 L260.30 232.60 L260.80 232.60 L261.30 232.41 L261.80 232.45 L262.30 232.60 L262.80 232.60 L263.30 232.60 L263.80 232.60 L264.30 232.60 L264.80 232.60 L265.30 232.57 L265.80 232.03 L266.30 232.60 L266.80 232.44 L267.30 232.60 L267.80 232.60 L268.30 232.60 L268.60 232.60 Z" fill="#e8262e"/>
<line x1="199.30" y1="232.30" x2="268.60" y2="232.30" stroke="#e8262e" stroke-width="0.5" stroke-dasharray="1.0 1.8" opacity="0.75"/>
<path d="M199.30 244.20 L199.30 244.20 L199.80 244.20 L200.30 244.19 L200.80 243.66 L201.30 243.73 L201.80 242.78 L202.30 243.33 L202.80 243.83 L203.30 244.13 L203.80 244.19 L204.30 243.86 L204.80 244.20 L205.30 244.20 L205.80 244.20 L206.30 244.20 L206.80 244.20 L207.30 244.02 L207.80 244.20 L208.30 243.71 L208.80 244.20 L209.30 243.91 L209.80 244.20 L210.30 244.12 L210.80 244.20 L211.30 243.92 L211.80 244.20 L212.30 243.76 L212.80 244.11 L213.30 244.20 L213.80 243.99 L214.30 244.20 L214.80 244.20 L215.30 244.20 L215.80 244.20 L216.30 244.20 L216.80 243.79 L217.30 244.20 L217.80 244.00 L218.30 244.20 L218.80 244.20 L219.30 244.20 L219.80 244.20 L220.30 243.89 L220.80 244.20 L221.30 244.13 L221.80 243.86 L222.30 244.20 L222.80 244.20 L223.30 244.13 L223.80 244.20 L224.30 244.20 L224.80 243.91 L225.30 244.20 L225.80 244.20 L226.30 244.20 L226.80 244.20 L227.30 244.20 L227.80 244.20 L228.30 244.20 L228.80 244.20 L229.30 244.20 L229.80 244.20 L230.30 243.82 L230.80 244.20 L231.30 244.20 L231.80 244.20 L232.30 244.20 L232.80 244.20 L233.30 244.19 L233.80 244.20 L234.30 244.20 L234.80 243.79 L235.30 244.20 L235.80 243.94 L236.30 243.77 L236.80 244.20 L237.30 244.20 L237.80 244.20 L238.30 244.00 L238.80 244.20 L239.30 244.20 L239.80 244.02 L240.30 244.20 L240.80 243.90 L241.30 244.20 L241.80 243.92 L242.30 244.20 L242.80 244.20 L243.30 244.16 L243.80 244.20 L244.30 244.20 L244.80 243.80 L245.30 244.20 L245.80 244.20 L246.30 244.20 L246.80 244.20 L247.30 244.20 L247.80 244.20 L248.30 244.20 L248.80 244.20 L249.30 244.20 L249.80 244.20 L250.30 244.20 L250.80 244.20 L251.30 244.20 L251.80 244.06 L252.30 244.20 L252.80 244.20 L253.30 244.20 L253.80 244.20 L254.30 243.96 L254.80 244.20 L255.30 244.20 L255.80 244.20 L256.30 244.20 L256.80 244.20 L257.30 244.20 L257.80 244.20 L258.30 244.17 L258.80 244.13 L259.30 244.20 L259.80 244.20 L260.30 243.76 L260.80 244.20 L261.30 244.20 L261.80 244.20 L262.30 244.20 L262.80 244.20 L263.30 244.20 L263.80 244.20 L264.30 243.77 L264.80 244.20 L265.30 243.77 L265.80 244.20 L266.30 243.85 L266.80 244.20 L267.30 244.20 L267.80 243.72 L268.30 244.16 L268.60 244.20 Z" fill="#4a8fd3"/>
<line x1="199.30" y1="243.90" x2="268.60" y2="243.90" stroke="#4a8fd3" stroke-width="0.5" stroke-dasharray="1.0 1.8" opacity="0.75"/>
<path d="M199.30 254.60 L199.30 254.60 L199.80 254.52 L200.30 254.60 L200.80 254.29 L201.30 254.60 L201.80 254.33 L202.30 254.60 L202.80 254.60 L203.30 254.60 L203.80 254.60 L204.30 254.60 L204.80 254.60 L205.30 254.60 L205.80 254.60 L206.30 254.22 L206.80 254.55 L207.30 254.60 L207.80 254.60 L208.30 254.60 L208.80 254.60 L209.30 254.60 L209.80 254.21 L210.30 254.60 L210.80 254.60 L211.30 254.58 L211.80 254.36 L212.30 254.60 L212.80 254.60 L213.30 254.60 L213.80 254.60 L214.30 254.60 L214.80 254.25 L215.30 254.60 L215.80 254.60 L216.30 254.60 L216.80 254.60 L217.30 254.60 L217.80 254.57 L218.30 254.60 L218.80 254.60 L219.30 254.44 L219.80 254.60 L220.30 254.60 L220.80 254.60 L221.30 254.38 L221.80 254.29 L222.30 254.60 L222.80 254.60 L223.30 254.60 L223.80 254.56 L224.30 254.57 L224.80 254.22 L225.30 254.60 L225.80 254.60 L226.30 254.60 L226.80 254.60 L227.30 254.60 L227.80 254.60 L228.30 254.60 L228.80 254.60 L229.30 254.60 L229.80 254.58 L230.30 254.60 L230.80 254.60 L231.30 254.60 L231.80 254.60 L232.30 254.60 L232.80 254.60 L233.30 254.60 L233.80 254.60 L234.30 254.59 L234.80 254.60 L235.30 254.60 L235.80 254.60 L236.30 254.53 L236.80 254.36 L237.30 254.59 L237.80 254.60 L238.30 254.60 L238.80 254.22 L239.30 254.60 L239.80 254.60 L240.30 254.60 L240.80 254.60 L241.30 254.60 L241.80 254.21 L242.30 254.60 L242.80 254.60 L243.30 254.36 L243.80 254.60 L244.30 254.60 L244.80 254.60 L245.30 254.60 L245.80 254.60 L246.30 254.60 L246.80 254.60 L247.30 254.60 L247.80 254.54 L248.30 254.57 L248.80 254.60 L249.30 254.60 L249.80 254.40 L250.30 254.23 L250.80 254.60 L251.30 254.51 L251.80 254.60 L252.30 254.31 L252.80 254.35 L253.30 254.60 L253.80 254.60 L254.30 254.60 L254.80 254.60 L255.30 254.60 L255.80 254.41 L256.30 254.30 L256.80 254.53 L257.30 254.59 L257.80 254.60 L258.30 254.39 L258.80 254.60 L259.30 254.60 L259.80 254.60 L260.30 254.60 L260.80 254.60 L261.30 254.60 L261.80 254.60 L262.30 254.60 L262.80 254.60 L263.30 254.60 L263.80 254.50 L264.30 254.60 L264.80 254.58 L265.30 254.60 L265.80 254.60 L266.30 254.60 L266.80 254.51 L267.30 254.60 L267.80 254.60 L268.30 254.60 L268.60 254.60 Z" fill="#8a8a8a"/>
<line x1="199.30" y1="254.30" x2="268.60" y2="254.30" stroke="#8a8a8a" stroke-width="0.5" stroke-dasharray="1.0 1.8" opacity="0.75"/>
<line x1="84.60" y1="179.30" x2="108.80" y2="179.30" stroke="#231f20" stroke-width="0.5"/>
<rect x="77.90" y="178.10" width="6.70" height="2.40" fill="#111"/>
<rect x="91.80" y="177.70" width="1.00" height="3.20" fill="#111"/>
<rect x="99.30" y="177.70" width="1.00" height="3.20" fill="#111"/>
<rect x="101.60" y="177.70" width="1.00" height="3.20" fill="#111"/>
<rect x="107.60" y="177.70" width="1.00" height="3.20" fill="#111"/>
<rect x="87.20" y="179.00" width="1.60" height="0.60" fill="#5a6fd0"/>
<rect x="95.20" y="179.00" width="1.60" height="0.60" fill="#5a6fd0"/>
<rect x="104.20" y="179.00" width="1.60" height="0.60" fill="#5a6fd0"/>
<line x1="141.20" y1="179.30" x2="180.00" y2="179.30" stroke="#231f20" stroke-width="0.5"/>
<rect x="141.80" y="177.70" width="1.00" height="3.20" fill="#111"/>
<rect x="145.80" y="177.70" width="1.00" height="3.20" fill="#111"/>
<rect x="148.00" y="177.70" width="1.00" height="3.20" fill="#111"/>
<rect x="159.50" y="177.70" width="1.00" height="3.20" fill="#111"/>
<rect x="161.80" y="177.70" width="1.00" height="3.20" fill="#111"/>
<rect x="166.70" y="177.70" width="1.00" height="3.20" fill="#111"/>
<rect x="177.50" y="178.10" width="6.20" height="2.40" fill="#111"/>
<rect x="152.20" y="179.00" width="1.60" height="0.60" fill="#5a6fd0"/>
<rect x="171.20" y="179.00" width="1.60" height="0.60" fill="#5a6fd0"/>
<line x1="201.20" y1="179.30" x2="265.20" y2="179.30" stroke="#231f20" stroke-width="0.5"/>
<path d="M200.6 179.3 L202.6 178.0 L202.6 180.60000000000002 Z" fill="#111"/>
<path d="M266.0 179.3 L264.0 178.0 L264.0 180.60000000000002 Z" fill="#111"/>
<rect x="206.90" y="177.70" width="1.00" height="3.20" fill="#111"/>
<rect x="222.90" y="177.70" width="1.00" height="3.20" fill="#111"/>
<rect x="226.90" y="177.70" width="1.00" height="3.20" fill="#111"/>
<rect x="230.70" y="177.70" width="1.00" height="3.20" fill="#111"/>
<rect x="237.40" y="177.70" width="1.00" height="3.20" fill="#111"/>
<rect x="247.90" y="177.70" width="1.00" height="3.20" fill="#111"/>
<rect x="213.20" y="179.00" width="1.60" height="0.60" fill="#5a6fd0"/>
<rect x="241.20" y="179.00" width="1.60" height="0.60" fill="#5a6fd0"/>
<rect x="255.20" y="179.00" width="1.60" height="0.60" fill="#5a6fd0"/>
<rect x="59.30" y="175.60" width="65.10" height="80.60" fill="none" stroke="#111" stroke-width="1.4"/>
<rect x="129.30" y="175.60" width="64.30" height="80.60" fill="none" stroke="#111" stroke-width="1.4"/>
<rect x="198.30" y="175.60" width="71.30" height="80.60" fill="none" stroke="#111" stroke-width="1.4"/>
<text x="39.80" y="194.80" font-size="6.69" fill="#e8262e" stroke="#e8262e" stroke-width="0.187" textLength="16.60" lengthAdjust="spacingAndGlyphs">DMSO</text>
<text x="32.00" y="206.50" font-size="6.69" fill="#5b9bd5" stroke="#5b9bd5" stroke-width="0.187" textLength="24.40" lengthAdjust="spacingAndGlyphs">Crizotinib</text>
<text x="43.70" y="218.00" font-size="6.69" fill="#9a9a9a" stroke="#9a9a9a" stroke-width="0.187" textLength="12.70" lengthAdjust="spacingAndGlyphs">Input</text>
<text x="39.80" y="229.40" font-size="6.69" fill="#e8262e" stroke="#e8262e" stroke-width="0.187" textLength="16.60" lengthAdjust="spacingAndGlyphs">DMSO</text>
<text x="32.00" y="240.90" font-size="6.69" fill="#5b9bd5" stroke="#5b9bd5" stroke-width="0.187" textLength="24.40" lengthAdjust="spacingAndGlyphs">Crizotinib</text>
<text x="43.70" y="252.30" font-size="6.69" fill="#9a9a9a" stroke="#9a9a9a" stroke-width="0.187" textLength="12.70" lengthAdjust="spacingAndGlyphs">Input</text>
<line x1="16.50" y1="187.60" x2="16.50" y2="256.50" stroke="#444" stroke-width="0.9"/>
<line x1="28.50" y1="187.60" x2="28.50" y2="220.80" stroke="#444" stroke-width="0.9"/>
<line x1="28.50" y1="222.40" x2="28.50" y2="256.50" stroke="#444" stroke-width="0.9"/>
<text x="12.50" y="221.70" font-size="5.60" text-anchor="middle" stroke="#231f20" stroke-width="0.157" textLength="39.80" lengthAdjust="spacingAndGlyphs" transform="rotate(-90 12.50 221.70)">STAT3 ChIP-seq</text>
<text x="25.00" y="204.20" font-size="5.60" text-anchor="middle" stroke="#231f20" stroke-width="0.157" textLength="10.30" lengthAdjust="spacingAndGlyphs" transform="rotate(-90 25.00 204.20)">JB6</text>
<text x="25.00" y="239.80" font-size="5.60" text-anchor="middle" stroke="#231f20" stroke-width="0.157" textLength="25.50" lengthAdjust="spacingAndGlyphs" transform="rotate(-90 25.00 239.80)">SU-DHL-1</text>
<text x="59.70" y="264.50" font-size="6.10" stroke="#231f20" stroke-width="0.171" textLength="64.10" lengthAdjust="spacingAndGlyphs">chr1: 206,935-206,950 kb</text>
<text x="128.00" y="264.50" font-size="6.10" stroke="#231f20" stroke-width="0.171" textLength="67.40" lengthAdjust="spacingAndGlyphs">chr11: 117,850-117,875 kb</text>
<text x="204.20" y="264.50" font-size="6.10" stroke="#231f20" stroke-width="0.171" textLength="60.90" lengthAdjust="spacingAndGlyphs">chr21: 34,636-34,671 kb</text>
<text x="385.50" y="175.00" font-size="7.85" stroke="#231f20" stroke-width="0.220" textLength="28.30" lengthAdjust="spacingAndGlyphs">SUP-M2</text>
<line x1="315.00" y1="177.50" x2="485.00" y2="177.50" stroke="#231f20" stroke-width="0.9"/>
<text x="338.80" y="187.00" font-size="8.28" stroke="#231f20" stroke-width="0.232" textLength="23.70" lengthAdjust="spacingAndGlyphs">DMSO</text>
<text x="433.80" y="186.90" font-size="8.72" stroke="#231f20" stroke-width="0.244" textLength="35.00" lengthAdjust="spacingAndGlyphs">Crizotinib</text>
<line x1="312.00" y1="191.50" x2="389.30" y2="191.50" stroke="#231f20" stroke-width="0.9"/>
<line x1="413.80" y1="191.50" x2="489.30" y2="191.50" stroke="#231f20" stroke-width="0.9"/>
<line x1="311.50" y1="198.50" x2="311.50" y2="242.80" stroke="#231f20" stroke-width="1.1"/>
<line x1="311.40" y1="242.50" x2="389.20" y2="242.50" stroke="#231f20" stroke-width="1.1"/>
<line x1="309.90" y1="203.50" x2="311.90" y2="203.50" stroke="#231f20" stroke-width="0.8"/>
<text x="305.20" y="206.01" font-size="6.30" text-anchor="end" stroke="#231f20" stroke-width="0.176">0.3</text>
<line x1="309.90" y1="216.50" x2="311.90" y2="216.50" stroke="#231f20" stroke-width="0.8"/>
<text x="305.20" y="218.84" font-size="6.30" text-anchor="end" stroke="#231f20" stroke-width="0.176">0.2</text>
<line x1="309.90" y1="229.50" x2="311.90" y2="229.50" stroke="#231f20" stroke-width="0.8"/>
<text x="305.20" y="231.67" font-size="6.30" text-anchor="end" stroke="#231f20" stroke-width="0.176">0.1</text>
<line x1="309.90" y1="242.50" x2="311.90" y2="242.50" stroke="#231f20" stroke-width="0.8"/>
<text x="305.20" y="244.50" font-size="6.30" text-anchor="end" stroke="#231f20" stroke-width="0.176">0.0</text>
<rect x="314.70" y="225.70" width="4.10" height="16.60" fill="#c8102e"/>
<line x1="316.50" y1="225.70" x2="316.50" y2="224.00" stroke="#231f20" stroke-width="0.8"/>
<line x1="315.75" y1="224.50" x2="317.75" y2="224.50" stroke="#231f20" stroke-width="0.8"/>
<rect x="330.40" y="224.50" width="4.10" height="17.80" fill="#c8102e"/>
<line x1="332.50" y1="224.50" x2="332.50" y2="220.80" stroke="#231f20" stroke-width="0.8"/>
<line x1="331.45" y1="220.50" x2="333.45" y2="220.50" stroke="#231f20" stroke-width="0.8"/>
<rect x="346.00" y="212.80" width="4.00" height="29.50" fill="#c8102e"/>
<line x1="348.50" y1="212.80" x2="348.50" y2="208.20" stroke="#231f20" stroke-width="0.8"/>
<line x1="347.00" y1="208.50" x2="349.00" y2="208.50" stroke="#231f20" stroke-width="0.8"/>
<rect x="360.80" y="238.20" width="4.20" height="4.10" fill="#c8102e"/>
<line x1="362.50" y1="238.20" x2="362.50" y2="236.80" stroke="#231f20" stroke-width="0.8"/>
<line x1="361.90" y1="236.50" x2="363.90" y2="236.50" stroke="#231f20" stroke-width="0.8"/>
<rect x="377.20" y="213.90" width="4.00" height="28.40" fill="#c8102e"/>
<line x1="379.50" y1="213.90" x2="379.50" y2="209.30" stroke="#231f20" stroke-width="0.8"/>
<line x1="378.20" y1="209.50" x2="380.20" y2="209.50" stroke="#231f20" stroke-width="0.8"/>
<rect x="321.20" y="238.80" width="3.40" height="3.50" fill="#bcbec0"/>
<line x1="322.90" y1="238.80" x2="322.90" y2="238.00" stroke="#231f20" stroke-width="0.6"/>
<line x1="322.10" y1="238.00" x2="323.70" y2="238.00" stroke="#231f20" stroke-width="0.6"/>
<rect x="336.20" y="237.70" width="3.80" height="4.60" fill="#bcbec0"/>
<line x1="338.10" y1="237.70" x2="338.10" y2="236.80" stroke="#231f20" stroke-width="0.6"/>
<line x1="337.30" y1="236.80" x2="338.90" y2="236.80" stroke="#231f20" stroke-width="0.6"/>
<rect x="351.60" y="240.70" width="3.70" height="1.60" fill="#bcbec0"/>
<line x1="353.45" y1="240.70" x2="353.45" y2="240.00" stroke="#231f20" stroke-width="0.6"/>
<line x1="352.65" y1="240.00" x2="354.25" y2="240.00" stroke="#231f20" stroke-width="0.6"/>
<rect x="367.30" y="236.50" width="3.50" height="5.80" fill="#bcbec0"/>
<line x1="369.05" y1="236.50" x2="369.05" y2="235.80" stroke="#231f20" stroke-width="0.6"/>
<line x1="368.25" y1="235.80" x2="369.85" y2="235.80" stroke="#231f20" stroke-width="0.6"/>
<rect x="382.50" y="240.50" width="3.30" height="1.80" fill="#bcbec0"/>
<line x1="384.15" y1="240.50" x2="384.15" y2="239.80" stroke="#231f20" stroke-width="0.6"/>
<line x1="383.35" y1="239.80" x2="384.95" y2="239.80" stroke="#231f20" stroke-width="0.6"/>
<line x1="413.50" y1="198.50" x2="413.50" y2="242.80" stroke="#231f20" stroke-width="1.1"/>
<line x1="412.50" y1="242.50" x2="490.80" y2="242.50" stroke="#231f20" stroke-width="1.1"/>
<line x1="411.00" y1="203.50" x2="413.00" y2="203.50" stroke="#231f20" stroke-width="0.8"/>
<text x="407.20" y="206.01" font-size="6.30" text-anchor="end" stroke="#231f20" stroke-width="0.176">0.3</text>
<line x1="411.00" y1="216.50" x2="413.00" y2="216.50" stroke="#231f20" stroke-width="0.8"/>
<text x="407.20" y="218.84" font-size="6.30" text-anchor="end" stroke="#231f20" stroke-width="0.176">0.2</text>
<line x1="411.00" y1="229.50" x2="413.00" y2="229.50" stroke="#231f20" stroke-width="0.8"/>
<text x="407.20" y="231.67" font-size="6.30" text-anchor="end" stroke="#231f20" stroke-width="0.176">0.1</text>
<line x1="411.00" y1="242.50" x2="413.00" y2="242.50" stroke="#231f20" stroke-width="0.8"/>
<text x="407.20" y="244.50" font-size="6.30" text-anchor="end" stroke="#231f20" stroke-width="0.176">0.0</text>
<rect x="416.20" y="237.20" width="3.70" height="5.10" fill="#29a9e1"/>
<line x1="418.50" y1="237.20" x2="418.50" y2="235.80" stroke="#231f20" stroke-width="0.8"/>
<line x1="417.05" y1="235.50" x2="419.05" y2="235.50" stroke="#231f20" stroke-width="0.8"/>
<rect x="431.90" y="240.00" width="3.50" height="2.30" fill="#29a9e1"/>
<line x1="433.50" y1="240.00" x2="433.50" y2="239.00" stroke="#231f20" stroke-width="0.8"/>
<line x1="432.65" y1="239.50" x2="434.65" y2="239.50" stroke="#231f20" stroke-width="0.8"/>
<rect x="447.00" y="233.00" width="3.80" height="9.30" fill="#29a9e1"/>
<line x1="448.50" y1="233.00" x2="448.50" y2="230.80" stroke="#231f20" stroke-width="0.8"/>
<line x1="447.90" y1="230.50" x2="449.90" y2="230.50" stroke="#231f20" stroke-width="0.8"/>
<rect x="463.00" y="240.70" width="3.50" height="1.60" fill="#29a9e1"/>
<line x1="464.50" y1="240.70" x2="464.50" y2="239.50" stroke="#231f20" stroke-width="0.8"/>
<line x1="463.75" y1="239.50" x2="465.75" y2="239.50" stroke="#231f20" stroke-width="0.8"/>
<rect x="478.00" y="233.50" width="4.00" height="8.80" fill="#29a9e1"/>
<line x1="480.50" y1="233.50" x2="480.50" y2="232.00" stroke="#231f20" stroke-width="0.8"/>
<line x1="479.00" y1="232.50" x2="481.00" y2="232.50" stroke="#231f20" stroke-width="0.8"/>
<rect x="421.00" y="240.90" width="3.50" height="1.40" fill="#bcbec0"/>
<line x1="422.75" y1="240.90" x2="422.75" y2="240.00" stroke="#231f20" stroke-width="0.6"/>
<line x1="421.95" y1="240.00" x2="423.55" y2="240.00" stroke="#231f20" stroke-width="0.6"/>
<rect x="436.80" y="240.60" width="3.40" height="1.70" fill="#bcbec0"/>
<line x1="438.50" y1="240.60" x2="438.50" y2="238.60" stroke="#231f20" stroke-width="0.6"/>
<line x1="437.70" y1="238.60" x2="439.30" y2="238.60" stroke="#231f20" stroke-width="0.6"/>
<rect x="452.20" y="240.90" width="3.40" height="1.40" fill="#bcbec0"/>
<line x1="453.90" y1="240.90" x2="453.90" y2="240.00" stroke="#231f20" stroke-width="0.6"/>
<line x1="453.10" y1="240.00" x2="454.70" y2="240.00" stroke="#231f20" stroke-width="0.6"/>
<rect x="468.00" y="240.90" width="3.40" height="1.40" fill="#bcbec0"/>
<line x1="469.70" y1="240.90" x2="469.70" y2="240.00" stroke="#231f20" stroke-width="0.6"/>
<line x1="468.90" y1="240.00" x2="470.50" y2="240.00" stroke="#231f20" stroke-width="0.6"/>
<rect x="483.40" y="239.80" width="3.40" height="2.50" fill="#bcbec0"/>
<line x1="485.10" y1="239.80" x2="485.10" y2="235.80" stroke="#231f20" stroke-width="0.6"/>
<line x1="484.30" y1="235.80" x2="485.90" y2="235.80" stroke="#231f20" stroke-width="0.6"/>
<line x1="318.50" y1="242.30" x2="318.50" y2="244.40" stroke="#231f20" stroke-width="0.8"/>
<text x="322.70" y="250.80" font-size="5.60" text-anchor="end" stroke="#231f20" stroke-width="0.157" textLength="13.01" lengthAdjust="spacingAndGlyphs" transform="rotate(-45 322.70 250.80)">IL10</text>
<line x1="334.50" y1="242.30" x2="334.50" y2="244.40" stroke="#231f20" stroke-width="0.8"/>
<text x="338.50" y="250.80" font-size="5.60" text-anchor="end" stroke="#231f20" stroke-width="0.157" textLength="21.21" lengthAdjust="spacingAndGlyphs" transform="rotate(-45 338.50 250.80)">IL10RA</text>
<line x1="350.50" y1="242.30" x2="350.50" y2="244.40" stroke="#231f20" stroke-width="0.8"/>
<text x="354.30" y="250.80" font-size="5.60" text-anchor="end" stroke="#231f20" stroke-width="0.157" textLength="20.50" lengthAdjust="spacingAndGlyphs" transform="rotate(-45 354.30 250.80)">IL10RB</text>
<line x1="366.50" y1="242.30" x2="366.50" y2="244.40" stroke="#231f20" stroke-width="0.8"/>
<text x="370.20" y="250.80" font-size="5.60" text-anchor="end" stroke="#231f20" stroke-width="0.157" textLength="9.47" lengthAdjust="spacingAndGlyphs" transform="rotate(-45 370.20 250.80)">Ctrl</text>
<line x1="381.50" y1="242.30" x2="381.50" y2="244.40" stroke="#231f20" stroke-width="0.8"/>
<text x="385.60" y="250.80" font-size="5.60" text-anchor="end" stroke="#231f20" stroke-width="0.157" textLength="12.73" lengthAdjust="spacingAndGlyphs" transform="rotate(-45 385.60 250.80)">IRF4</text>
<line x1="420.50" y1="242.30" x2="420.50" y2="244.40" stroke="#231f20" stroke-width="0.8"/>
<text x="424.10" y="250.80" font-size="5.60" text-anchor="end" stroke="#231f20" stroke-width="0.157" textLength="13.01" lengthAdjust="spacingAndGlyphs" transform="rotate(-45 424.10 250.80)">IL10</text>
<line x1="435.50" y1="242.30" x2="435.50" y2="244.40" stroke="#231f20" stroke-width="0.8"/>
<text x="439.80" y="250.80" font-size="5.60" text-anchor="end" stroke="#231f20" stroke-width="0.157" textLength="21.21" lengthAdjust="spacingAndGlyphs" transform="rotate(-45 439.80 250.80)">IL10RA</text>
<line x1="451.50" y1="242.30" x2="451.50" y2="244.40" stroke="#231f20" stroke-width="0.8"/>
<text x="455.30" y="250.80" font-size="5.60" text-anchor="end" stroke="#231f20" stroke-width="0.157" textLength="20.50" lengthAdjust="spacingAndGlyphs" transform="rotate(-45 455.30 250.80)">IL10RB</text>
<line x1="467.50" y1="242.30" x2="467.50" y2="244.40" stroke="#231f20" stroke-width="0.8"/>
<text x="471.00" y="250.80" font-size="5.60" text-anchor="end" stroke="#231f20" stroke-width="0.157" textLength="9.47" lengthAdjust="spacingAndGlyphs" transform="rotate(-45 471.00 250.80)">Ctrl</text>
<line x1="482.50" y1="242.30" x2="482.50" y2="244.40" stroke="#231f20" stroke-width="0.8"/>
<text x="486.50" y="250.80" font-size="5.60" text-anchor="end" stroke="#231f20" stroke-width="0.157" textLength="12.73" lengthAdjust="spacingAndGlyphs" transform="rotate(-45 486.50 250.80)">IRF4</text>
<line x1="315.40" y1="204.70" x2="325.80" y2="204.70" stroke="#c8102e" stroke-width="1.9"/>
<line x1="315.40" y1="212.30" x2="325.80" y2="212.30" stroke="#bcbec0" stroke-width="1.9"/>
<text x="328.50" y="206.60" font-size="5.23" stroke="#231f20" stroke-width="0.147" textLength="12.90" lengthAdjust="spacingAndGlyphs">STAT3</text>
<text x="328.50" y="214.50" font-size="5.23" stroke="#231f20" stroke-width="0.147" textLength="8.70" lengthAdjust="spacingAndGlyphs">GFP</text>
<line x1="416.20" y1="204.70" x2="426.60" y2="204.70" stroke="#29a9e1" stroke-width="1.9"/>
<line x1="416.20" y1="212.30" x2="426.60" y2="212.30" stroke="#bcbec0" stroke-width="1.9"/>
<text x="429.30" y="206.60" font-size="5.23" stroke="#231f20" stroke-width="0.147" textLength="12.90" lengthAdjust="spacingAndGlyphs">STAT3</text>
<text x="429.30" y="214.50" font-size="5.23" stroke="#231f20" stroke-width="0.147" textLength="8.70" lengthAdjust="spacingAndGlyphs">GFP</text>
<text x="292.90" y="220.10" font-size="7.00" text-anchor="middle" stroke="#231f20" stroke-width="0.196" textLength="41.20" lengthAdjust="spacingAndGlyphs" transform="rotate(-90 292.90 220.10)">% of total input</text>
<text x="33.00" y="298.90" font-size="7.85" stroke="#231f20" stroke-width="0.220" textLength="30.50" lengthAdjust="spacingAndGlyphs">SU-DHL-1</text>
<text x="21.50" y="307.30" font-size="7.85" stroke="#231f20" stroke-width="0.220" textLength="53.90" lengthAdjust="spacingAndGlyphs">IL10RA sgRNA 72</text>
<line x1="7.70" y1="311.50" x2="89.40" y2="311.50" stroke="#231f20" stroke-width="0.9"/>
<line x1="30.80" y1="318.00" x2="41.10" y2="318.00" stroke="#e8857a" stroke-width="1.9"/>
<line x1="30.80" y1="326.90" x2="41.10" y2="326.90" stroke="#c8102e" stroke-width="1.9"/>
<text x="43.80" y="319.30" font-size="4.51" stroke="#231f20" stroke-width="0.126" textLength="36.60" lengthAdjust="spacingAndGlyphs">STAT3 shRNA 191</text>
<text x="43.80" y="328.50" font-size="4.51" stroke="#231f20" stroke-width="0.126" textLength="36.60" lengthAdjust="spacingAndGlyphs">STAT3 shRNA 192</text>
<rect x="50.00" y="336.40" width="8.70" height="24.07" fill="#e8857a"/>
<line x1="54.35" y1="360.47" x2="54.35" y2="361.77" stroke="#231f20" stroke-width="0.7"/>
<line x1="52.75" y1="361.50" x2="55.95" y2="361.50" stroke="#231f20" stroke-width="0.8"/>
<rect x="63.80" y="336.40" width="8.90" height="7.83" fill="#c8102e"/>
<line x1="68.25" y1="344.23" x2="68.25" y2="346.11" stroke="#231f20" stroke-width="0.7"/>
<line x1="66.65" y1="346.50" x2="69.85" y2="346.50" stroke="#231f20" stroke-width="0.8"/>
<rect x="43.50" y="336.40" width="36.80" height="29.00" fill="none" stroke="#231f20" stroke-width="0.8"/>
<line x1="43.50" y1="336.00" x2="43.50" y2="365.90" stroke="#231f20" stroke-width="1.1"/>
<line x1="43.10" y1="365.50" x2="80.70" y2="365.50" stroke="#231f20" stroke-width="1.1"/>
<line x1="40.70" y1="336.50" x2="43.50" y2="336.50" stroke="#231f20" stroke-width="1.0"/>
<text x="37.50" y="338.50" font-size="5.90" text-anchor="end" stroke="#231f20" stroke-width="0.165">0</text>
<line x1="40.70" y1="343.50" x2="43.50" y2="343.50" stroke="#231f20" stroke-width="1.0"/>
<text x="37.50" y="345.75" font-size="5.90" text-anchor="end" stroke="#231f20" stroke-width="0.165">-5</text>
<line x1="40.70" y1="350.50" x2="43.50" y2="350.50" stroke="#231f20" stroke-width="1.0"/>
<text x="37.50" y="353.00" font-size="5.90" text-anchor="end" stroke="#231f20" stroke-width="0.165">-10</text>
<line x1="40.70" y1="358.50" x2="43.50" y2="358.50" stroke="#231f20" stroke-width="1.0"/>
<text x="37.50" y="360.25" font-size="5.90" text-anchor="end" stroke="#231f20" stroke-width="0.165">-15</text>
<line x1="40.70" y1="365.50" x2="43.50" y2="365.50" stroke="#231f20" stroke-width="1.0"/>
<text x="37.50" y="367.50" font-size="5.90" text-anchor="end" stroke="#231f20" stroke-width="0.165">-20</text>
<text x="87.90" y="349.80" font-size="7.00" text-anchor="middle" stroke="#231f20" stroke-width="0.196" textLength="19.20" lengthAdjust="spacingAndGlyphs" transform="rotate(-90 87.90 349.80)">STAT3</text>
<rect x="50.00" y="374.60" width="8.70" height="20.30" fill="#e8857a"/>
<line x1="54.35" y1="394.90" x2="54.35" y2="396.06" stroke="#231f20" stroke-width="0.7"/>
<line x1="52.75" y1="396.50" x2="55.95" y2="396.50" stroke="#231f20" stroke-width="0.8"/>
<rect x="63.80" y="374.60" width="8.90" height="11.02" fill="#c8102e"/>
<line x1="68.25" y1="385.62" x2="68.25" y2="386.20" stroke="#231f20" stroke-width="0.7"/>
<line x1="66.65" y1="386.50" x2="69.85" y2="386.50" stroke="#231f20" stroke-width="0.8"/>
<rect x="43.50" y="374.60" width="36.80" height="29.20" fill="none" stroke="#231f20" stroke-width="0.8"/>
<line x1="43.50" y1="374.20" x2="43.50" y2="404.30" stroke="#231f20" stroke-width="1.1"/>
<line x1="43.10" y1="403.50" x2="80.70" y2="403.50" stroke="#231f20" stroke-width="1.1"/>
<line x1="40.70" y1="374.50" x2="43.50" y2="374.50" stroke="#231f20" stroke-width="1.0"/>
<text x="37.50" y="376.70" font-size="5.90" text-anchor="end" stroke="#231f20" stroke-width="0.165">0</text>
<line x1="40.70" y1="381.50" x2="43.50" y2="381.50" stroke="#231f20" stroke-width="1.0"/>
<text x="37.50" y="383.95" font-size="5.90" text-anchor="end" stroke="#231f20" stroke-width="0.165">-5</text>
<line x1="40.70" y1="389.50" x2="43.50" y2="389.50" stroke="#231f20" stroke-width="1.0"/>
<text x="37.50" y="391.20" font-size="5.90" text-anchor="end" stroke="#231f20" stroke-width="0.165">-10</text>
<line x1="40.70" y1="396.50" x2="43.50" y2="396.50" stroke="#231f20" stroke-width="1.0"/>
<text x="37.50" y="398.45" font-size="5.90" text-anchor="end" stroke="#231f20" stroke-width="0.165">-15</text>
<line x1="40.70" y1="403.50" x2="43.50" y2="403.50" stroke="#231f20" stroke-width="1.0"/>
<text x="37.50" y="405.70" font-size="5.90" text-anchor="end" stroke="#231f20" stroke-width="0.165">-20</text>
<text x="87.90" y="388.60" font-size="7.00" text-anchor="middle" stroke="#231f20" stroke-width="0.196" textLength="14.20" lengthAdjust="spacingAndGlyphs" transform="rotate(-90 87.90 388.60)">IL-10</text>
<text x="14.30" y="369.70" font-size="7.00" text-anchor="middle" stroke="#231f20" stroke-width="0.196" textLength="64.40" lengthAdjust="spacingAndGlyphs" transform="rotate(-90 14.30 369.70)">Fold change expression</text>
<text x="22.90" y="370.20" font-size="7.00" text-anchor="middle" stroke="#231f20" stroke-width="0.196" textLength="71.20" lengthAdjust="spacingAndGlyphs" transform="rotate(-90 22.90 370.20)">(normalized to NT shRNA)</text>
<text x="127.50" y="298.90" font-size="7.85" stroke="#231f20" stroke-width="0.220" textLength="24.40" lengthAdjust="spacingAndGlyphs">SUP-M2</text>
<text x="112.70" y="307.30" font-size="7.85" stroke="#231f20" stroke-width="0.220" textLength="54.20" lengthAdjust="spacingAndGlyphs">IL10RA sgRNA 50</text>
<line x1="98.70" y1="311.50" x2="180.80" y2="311.50" stroke="#231f20" stroke-width="0.9"/>
<line x1="121.70" y1="318.00" x2="132.00" y2="318.00" stroke="#e8857a" stroke-width="1.9"/>
<line x1="121.70" y1="326.90" x2="132.00" y2="326.90" stroke="#c8102e" stroke-width="1.9"/>
<text x="134.20" y="319.30" font-size="4.51" stroke="#231f20" stroke-width="0.126" textLength="36.60" lengthAdjust="spacingAndGlyphs">STAT3 shRNA 191</text>
<text x="134.20" y="328.50" font-size="4.51" stroke="#231f20" stroke-width="0.126" textLength="36.60" lengthAdjust="spacingAndGlyphs">STAT3 shRNA 192</text>
<rect x="141.00" y="336.40" width="9.60" height="22.89" fill="#e8857a"/>
<line x1="145.80" y1="359.29" x2="145.80" y2="360.07" stroke="#231f20" stroke-width="0.7"/>
<line x1="144.20" y1="360.50" x2="147.40" y2="360.50" stroke="#231f20" stroke-width="0.8"/>
<rect x="155.40" y="336.40" width="9.20" height="13.58" fill="#c8102e"/>
<line x1="160.00" y1="349.98" x2="160.00" y2="350.56" stroke="#231f20" stroke-width="0.7"/>
<line x1="158.40" y1="350.50" x2="161.60" y2="350.50" stroke="#231f20" stroke-width="0.8"/>
<rect x="135.00" y="336.40" width="35.80" height="29.00" fill="none" stroke="#231f20" stroke-width="0.8"/>
<line x1="135.50" y1="336.00" x2="135.50" y2="365.90" stroke="#231f20" stroke-width="1.1"/>
<line x1="134.60" y1="365.50" x2="171.20" y2="365.50" stroke="#231f20" stroke-width="1.1"/>
<line x1="132.20" y1="336.50" x2="135.00" y2="336.50" stroke="#231f20" stroke-width="1.0"/>
<text x="129.00" y="338.50" font-size="5.90" text-anchor="end" stroke="#231f20" stroke-width="0.165">0</text>
<line x1="132.20" y1="346.50" x2="135.00" y2="346.50" stroke="#231f20" stroke-width="1.0"/>
<text x="129.00" y="348.20" font-size="5.90" text-anchor="end" stroke="#231f20" stroke-width="0.165">-5</text>
<line x1="132.20" y1="355.50" x2="135.00" y2="355.50" stroke="#231f20" stroke-width="1.0"/>
<text x="129.00" y="357.90" font-size="5.90" text-anchor="end" stroke="#231f20" stroke-width="0.165">-10</text>
<line x1="132.20" y1="365.50" x2="135.00" y2="365.50" stroke="#231f20" stroke-width="1.0"/>
<text x="129.00" y="367.60" font-size="5.90" text-anchor="end" stroke="#231f20" stroke-width="0.165">-15</text>
<text x="179.00" y="349.80" font-size="7.00" text-anchor="middle" stroke="#231f20" stroke-width="0.196" textLength="19.20" lengthAdjust="spacingAndGlyphs" transform="rotate(-90 179.00 349.80)">STAT3</text>
<rect x="141.00" y="374.60" width="9.60" height="5.24" fill="#e8857a"/>
<line x1="145.80" y1="379.84" x2="145.80" y2="380.23" stroke="#231f20" stroke-width="0.7"/>
<line x1="144.20" y1="380.50" x2="147.40" y2="380.50" stroke="#231f20" stroke-width="0.8"/>
<rect x="155.40" y="374.60" width="9.20" height="6.21" fill="#c8102e"/>
<line x1="160.00" y1="380.81" x2="160.00" y2="381.20" stroke="#231f20" stroke-width="0.7"/>
<line x1="158.40" y1="381.50" x2="161.60" y2="381.50" stroke="#231f20" stroke-width="0.8"/>
<rect x="135.00" y="374.60" width="35.80" height="29.20" fill="none" stroke="#231f20" stroke-width="0.8"/>
<line x1="135.50" y1="374.20" x2="135.50" y2="404.30" stroke="#231f20" stroke-width="1.1"/>
<line x1="134.60" y1="403.50" x2="171.20" y2="403.50" stroke="#231f20" stroke-width="1.1"/>
<line x1="132.20" y1="374.50" x2="135.00" y2="374.50" stroke="#231f20" stroke-width="1.0"/>
<text x="129.00" y="376.70" font-size="5.90" text-anchor="end" stroke="#231f20" stroke-width="0.165">0</text>
<line x1="132.20" y1="384.50" x2="135.00" y2="384.50" stroke="#231f20" stroke-width="1.0"/>
<text x="129.00" y="386.40" font-size="5.90" text-anchor="end" stroke="#231f20" stroke-width="0.165">-5</text>
<line x1="132.20" y1="394.50" x2="135.00" y2="394.50" stroke="#231f20" stroke-width="1.0"/>
<text x="129.00" y="396.10" font-size="5.90" text-anchor="end" stroke="#231f20" stroke-width="0.165">-10</text>
<line x1="132.20" y1="403.50" x2="135.00" y2="403.50" stroke="#231f20" stroke-width="1.0"/>
<text x="129.00" y="405.80" font-size="5.90" text-anchor="end" stroke="#231f20" stroke-width="0.165">-15</text>
<text x="179.00" y="388.60" font-size="7.00" text-anchor="middle" stroke="#231f20" stroke-width="0.196" textLength="14.20" lengthAdjust="spacingAndGlyphs" transform="rotate(-90 179.00 388.60)">IL-10</text>
<text x="105.40" y="369.70" font-size="7.00" text-anchor="middle" stroke="#231f20" stroke-width="0.196" textLength="64.40" lengthAdjust="spacingAndGlyphs" transform="rotate(-90 105.40 369.70)">Fold change expression</text>
<text x="114.30" y="370.20" font-size="7.00" text-anchor="middle" stroke="#231f20" stroke-width="0.196" textLength="71.20" lengthAdjust="spacingAndGlyphs" transform="rotate(-90 114.30 370.20)">(normalized to NT shRNA)</text>
<text x="226.50" y="298.90" font-size="7.85" stroke="#231f20" stroke-width="0.220" textLength="12.20" lengthAdjust="spacingAndGlyphs">DEL</text>
<text x="206.00" y="307.30" font-size="7.85" stroke="#231f20" stroke-width="0.220" textLength="53.80" lengthAdjust="spacingAndGlyphs">IL10RA sgRNA 72</text>
<line x1="192.00" y1="311.50" x2="273.70" y2="311.50" stroke="#231f20" stroke-width="0.9"/>
<line x1="214.60" y1="318.00" x2="224.90" y2="318.00" stroke="#e8857a" stroke-width="1.9"/>
<line x1="214.60" y1="326.90" x2="224.90" y2="326.90" stroke="#c8102e" stroke-width="1.9"/>
<text x="227.00" y="319.30" font-size="4.51" stroke="#231f20" stroke-width="0.126" textLength="36.70" lengthAdjust="spacingAndGlyphs">STAT3 shRNA 191</text>
<text x="227.00" y="328.50" font-size="4.51" stroke="#231f20" stroke-width="0.126" textLength="36.70" lengthAdjust="spacingAndGlyphs">STAT3 shRNA 192</text>
<rect x="234.20" y="336.40" width="9.30" height="17.52" fill="#e8857a"/>
<line x1="238.85" y1="353.92" x2="238.85" y2="354.50" stroke="#231f20" stroke-width="0.7"/>
<line x1="237.25" y1="354.50" x2="240.45" y2="354.50" stroke="#231f20" stroke-width="0.8"/>
<rect x="248.30" y="336.40" width="9.00" height="10.22" fill="#c8102e"/>
<line x1="252.80" y1="346.62" x2="252.80" y2="347.20" stroke="#231f20" stroke-width="0.7"/>
<line x1="251.20" y1="347.50" x2="254.40" y2="347.50" stroke="#231f20" stroke-width="0.8"/>
<rect x="227.50" y="336.40" width="37.10" height="29.00" fill="none" stroke="#231f20" stroke-width="0.8"/>
<line x1="227.50" y1="336.00" x2="227.50" y2="365.90" stroke="#231f20" stroke-width="1.1"/>
<line x1="227.10" y1="365.50" x2="265.00" y2="365.50" stroke="#231f20" stroke-width="1.1"/>
<line x1="224.70" y1="336.50" x2="227.50" y2="336.50" stroke="#231f20" stroke-width="1.0"/>
<text x="221.50" y="338.50" font-size="5.90" text-anchor="end" stroke="#231f20" stroke-width="0.165">0</text>
<line x1="224.70" y1="351.50" x2="227.50" y2="351.50" stroke="#231f20" stroke-width="1.0"/>
<text x="221.50" y="353.10" font-size="5.90" text-anchor="end" stroke="#231f20" stroke-width="0.165">-5</text>
<line x1="224.70" y1="365.50" x2="227.50" y2="365.50" stroke="#231f20" stroke-width="1.0"/>
<text x="221.50" y="367.70" font-size="5.90" text-anchor="end" stroke="#231f20" stroke-width="0.165">-10</text>
<text x="272.60" y="349.80" font-size="7.00" text-anchor="middle" stroke="#231f20" stroke-width="0.196" textLength="19.20" lengthAdjust="spacingAndGlyphs" transform="rotate(-90 272.60 349.80)">STAT3</text>
<rect x="234.20" y="374.60" width="9.30" height="13.14" fill="#e8857a"/>
<line x1="238.85" y1="387.74" x2="238.85" y2="388.32" stroke="#231f20" stroke-width="0.7"/>
<line x1="237.25" y1="388.50" x2="240.45" y2="388.50" stroke="#231f20" stroke-width="0.8"/>
<rect x="248.30" y="374.60" width="9.00" height="9.64" fill="#c8102e"/>
<line x1="252.80" y1="384.24" x2="252.80" y2="385.11" stroke="#231f20" stroke-width="0.7"/>
<line x1="251.20" y1="385.50" x2="254.40" y2="385.50" stroke="#231f20" stroke-width="0.8"/>
<rect x="227.50" y="374.60" width="37.10" height="29.20" fill="none" stroke="#231f20" stroke-width="0.8"/>
<line x1="227.50" y1="374.20" x2="227.50" y2="404.30" stroke="#231f20" stroke-width="1.1"/>
<line x1="227.10" y1="403.50" x2="265.00" y2="403.50" stroke="#231f20" stroke-width="1.1"/>
<line x1="224.70" y1="374.50" x2="227.50" y2="374.50" stroke="#231f20" stroke-width="1.0"/>
<text x="221.50" y="376.70" font-size="5.90" text-anchor="end" stroke="#231f20" stroke-width="0.165">0</text>
<line x1="224.70" y1="389.50" x2="227.50" y2="389.50" stroke="#231f20" stroke-width="1.0"/>
<text x="221.50" y="391.30" font-size="5.90" text-anchor="end" stroke="#231f20" stroke-width="0.165">-5</text>
<line x1="224.70" y1="403.50" x2="227.50" y2="403.50" stroke="#231f20" stroke-width="1.0"/>
<text x="221.50" y="405.90" font-size="5.90" text-anchor="end" stroke="#231f20" stroke-width="0.165">-10</text>
<text x="272.60" y="388.60" font-size="7.00" text-anchor="middle" stroke="#231f20" stroke-width="0.196" textLength="14.20" lengthAdjust="spacingAndGlyphs" transform="rotate(-90 272.60 388.60)">IL-10</text>
<text x="198.30" y="369.70" font-size="7.00" text-anchor="middle" stroke="#231f20" stroke-width="0.196" textLength="64.40" lengthAdjust="spacingAndGlyphs" transform="rotate(-90 198.30 369.70)">Fold change expression</text>
<text x="206.90" y="370.20" font-size="7.00" text-anchor="middle" stroke="#231f20" stroke-width="0.196" textLength="71.20" lengthAdjust="spacingAndGlyphs" transform="rotate(-90 206.90 370.20)">(normalized to NT shRNA)</text>
<path d="M305.6 415.4 Q409 386 512.8 415.8 L512.8 442.4 L305.6 442.4 Z" fill="url(#nuc)"/>
<path d="M305.6 415.4 Q409 386 512.8 415.8" fill="none" stroke="#4b9ad9" stroke-width="1.1"/>
<rect x="305.20" y="320.20" width="207.60" height="18.50" fill="#9c9c9c"/>
<rect x="305.20" y="320.20" width="207.60" height="4.80" fill="#8c8c8c"/>
<rect x="305.20" y="333.90" width="207.60" height="4.80" fill="#8c8c8c"/>
<rect x="307.75" y="325.00" width="0.90" height="8.90" fill="#c8c8c8"/>
<rect x="305.45" y="325.00" width="0.40" height="8.90" fill="#767676"/>
<rect x="306.95" y="325.00" width="0.40" height="8.90" fill="#767676"/>
<circle cx="306.40" cy="322.5" r="1.62" fill="#fff" stroke="#6a6a6a" stroke-width="0.42"/>
<circle cx="306.40" cy="336.3" r="1.62" fill="#fff" stroke="#6a6a6a" stroke-width="0.42"/>
<rect x="311.36" y="325.00" width="0.90" height="8.90" fill="#c8c8c8"/>
<rect x="309.06" y="325.00" width="0.40" height="8.90" fill="#767676"/>
<rect x="310.56" y="325.00" width="0.40" height="8.90" fill="#767676"/>
<circle cx="310.01" cy="322.5" r="1.62" fill="#fff" stroke="#6a6a6a" stroke-width="0.42"/>
<circle cx="310.01" cy="336.3" r="1.62" fill="#fff" stroke="#6a6a6a" stroke-width="0.42"/>
<rect x="314.97" y="325.00" width="0.90" height="8.90" fill="#c8c8c8"/>
<rect x="312.67" y="325.00" width="0.40" height="8.90" fill="#767676"/>
<rect x="314.17" y="325.00" width="0.40" height="8.90" fill="#767676"/>
<circle cx="313.62" cy="322.5" r="1.62" fill="#fff" stroke="#6a6a6a" stroke-width="0.42"/>
<circle cx="313.62" cy="336.3" r="1.62" fill="#fff" stroke="#6a6a6a" stroke-width="0.42"/>
<rect x="318.58" y="325.00" width="0.90" height="8.90" fill="#c8c8c8"/>
<rect x="316.28" y="325.00" width="0.40" height="8.90" fill="#767676"/>
<rect x="317.78" y="325.00" width="0.40" height="8.90" fill="#767676"/>
<circle cx="317.23" cy="322.5" r="1.62" fill="#fff" stroke="#6a6a6a" stroke-width="0.42"/>
<circle cx="317.23" cy="336.3" r="1.62" fill="#fff" stroke="#6a6a6a" stroke-width="0.42"/>
<rect x="322.19" y="325.00" width="0.90" height="8.90" fill="#c8c8c8"/>
<rect x="319.89" y="325.00" width="0.40" height="8.90" fill="#767676"/>
<rect x="321.39" y="325.00" width="0.40" height="8.90" fill="#767676"/>
<circle cx="320.84" cy="322.5" r="1.62" fill="#fff" stroke="#6a6a6a" stroke-width="0.42"/>
<circle cx="320.84" cy="336.3" r="1.62" fill="#fff" stroke="#6a6a6a" stroke-width="0.42"/>
<rect x="325.80" y="325.00" width="0.90" height="8.90" fill="#c8c8c8"/>
<rect x="323.50" y="325.00" width="0.40" height="8.90" fill="#767676"/>
<rect x="325.00" y="325.00" width="0.40" height="8.90" fill="#767676"/>
<circle cx="324.45" cy="322.5" r="1.62" fill="#fff" stroke="#6a6a6a" stroke-width="0.42"/>
<circle cx="324.45" cy="336.3" r="1.62" fill="#fff" stroke="#6a6a6a" stroke-width="0.42"/>
<rect x="329.41" y="325.00" width="0.90" height="8.90" fill="#c8c8c8"/>
<rect x="327.11" y="325.00" width="0.40" height="8.90" fill="#767676"/>
<rect x="328.61" y="325.00" width="0.40" height="8.90" fill="#767676"/>
<circle cx="328.06" cy="322.5" r="1.62" fill="#fff" stroke="#6a6a6a" stroke-width="0.42"/>
<circle cx="328.06" cy="336.3" r="1.62" fill="#fff" stroke="#6a6a6a" stroke-width="0.42"/>
<rect x="333.02" y="325.00" width="0.90" height="8.90" fill="#c8c8c8"/>
<rect x="330.72" y="325.00" width="0.40" height="8.90" fill="#767676"/>
<rect x="332.22" y="325.00" width="0.40" height="8.90" fill="#767676"/>
<circle cx="331.67" cy="322.5" r="1.62" fill="#fff" stroke="#6a6a6a" stroke-width="0.42"/>
<circle cx="331.67" cy="336.3" r="1.62" fill="#fff" stroke="#6a6a6a" stroke-width="0.42"/>
<rect x="336.63" y="325.00" width="0.90" height="8.90" fill="#c8c8c8"/>
<rect x="334.33" y="325.00" width="0.40" height="8.90" fill="#767676"/>
<rect x="335.83" y="325.00" width="0.40" height="8.90" fill="#767676"/>
<circle cx="335.28" cy="322.5" r="1.62" fill="#fff" stroke="#6a6a6a" stroke-width="0.42"/>
<circle cx="335.28" cy="336.3" r="1.62" fill="#fff" stroke="#6a6a6a" stroke-width="0.42"/>
<rect x="340.24" y="325.00" width="0.90" height="8.90" fill="#c8c8c8"/>
<rect x="337.94" y="325.00" width="0.40" height="8.90" fill="#767676"/>
<rect x="339.44" y="325.00" width="0.40" height="8.90" fill="#767676"/>
<circle cx="338.89" cy="322.5" r="1.62" fill="#fff" stroke="#6a6a6a" stroke-width="0.42"/>
<circle cx="338.89" cy="336.3" r="1.62" fill="#fff" stroke="#6a6a6a" stroke-width="0.42"/>
<rect x="343.85" y="325.00" width="0.90" height="8.90" fill="#c8c8c8"/>
<rect x="341.55" y="325.00" width="0.40" height="8.90" fill="#767676"/>
<rect x="343.05" y="325.00" width="0.40" height="8.90" fill="#767676"/>
<circle cx="342.50" cy="322.5" r="1.62" fill="#fff" stroke="#6a6a6a" stroke-width="0.42"/>
<circle cx="342.50" cy="336.3" r="1.62" fill="#fff" stroke="#6a6a6a" stroke-width="0.42"/>
<rect x="347.46" y="325.00" width="0.90" height="8.90" fill="#c8c8c8"/>
<rect x="345.16" y="325.00" width="0.40" height="8.90" fill="#767676"/>
<rect x="346.66" y="325.00" width="0.40" height="8.90" fill="#767676"/>
<circle cx="346.11" cy="322.5" r="1.62" fill="#fff" stroke="#6a6a6a" stroke-width="0.42"/>
<circle cx="346.11" cy="336.3" r="1.62" fill="#fff" stroke="#6a6a6a" stroke-width="0.42"/>
<rect x="351.07" y="325.00" width="0.90" height="8.90" fill="#c8c8c8"/>
<rect x="348.77" y="325.00" width="0.40" height="8.90" fill="#767676"/>
<rect x="350.27" y="325.00" width="0.40" height="8.90" fill="#767676"/>
<circle cx="349.72" cy="322.5" r="1.62" fill="#fff" stroke="#6a6a6a" stroke-width="0.42"/>
<circle cx="349.72" cy="336.3" r="1.62" fill="#fff" stroke="#6a6a6a" stroke-width="0.42"/>
<rect x="354.68" y="325.00" width="0.90" height="8.90" fill="#c8c8c8"/>
<rect x="352.38" y="325.00" width="0.40" height="8.90" fill="#767676"/>
<rect x="353.88" y="325.00" width="0.40" height="8.90" fill="#767676"/>
<circle cx="353.33" cy="322.5" r="1.62" fill="#fff" stroke="#6a6a6a" stroke-width="0.42"/>
<circle cx="353.33" cy="336.3" r="1.62" fill="#fff" stroke="#6a6a6a" stroke-width="0.42"/>
<rect x="358.29" y="325.00" width="0.90" height="8.90" fill="#c8c8c8"/>
<rect x="355.99" y="325.00" width="0.40" height="8.90" fill="#767676"/>
<rect x="357.49" y="325.00" width="0.40" height="8.90" fill="#767676"/>
<circle cx="356.94" cy="322.5" r="1.62" fill="#fff" stroke="#6a6a6a" stroke-width="0.42"/>
<circle cx="356.94" cy="336.3" r="1.62" fill="#fff" stroke="#6a6a6a" stroke-width="0.42"/>
<rect x="361.90" y="325.00" width="0.90" height="8.90" fill="#c8c8c8"/>
<rect x="359.60" y="325.00" width="0.40" height="8.90" fill="#767676"/>
<rect x="361.10" y="325.00" width="0.40" height="8.90" fill="#767676"/>
<circle cx="360.55" cy="322.5" r="1.62" fill="#fff" stroke="#6a6a6a" stroke-width="0.42"/>
<circle cx="360.55" cy="336.3" r="1.62" fill="#fff" stroke="#6a6a6a" stroke-width="0.42"/>
<rect x="365.51" y="325.00" width="0.90" height="8.90" fill="#c8c8c8"/>
<rect x="363.21" y="325.00" width="0.40" height="8.90" fill="#767676"/>
<rect x="364.71" y="325.00" width="0.40" height="8.90" fill="#767676"/>
<circle cx="364.16" cy="322.5" r="1.62" fill="#fff" stroke="#6a6a6a" stroke-width="0.42"/>
<circle cx="364.16" cy="336.3" r="1.62" fill="#fff" stroke="#6a6a6a" stroke-width="0.42"/>
<rect x="369.12" y="325.00" width="0.90" height="8.90" fill="#c8c8c8"/>
<rect x="366.82" y="325.00" width="0.40" height="8.90" fill="#767676"/>
<rect x="368.32" y="325.00" width="0.40" height="8.90" fill="#767676"/>
<circle cx="367.77" cy="322.5" r="1.62" fill="#fff" stroke="#6a6a6a" stroke-width="0.42"/>
<circle cx="367.77" cy="336.3" r="1.62" fill="#fff" stroke="#6a6a6a" stroke-width="0.42"/>
<rect x="372.73" y="325.00" width="0.90" height="8.90" fill="#c8c8c8"/>
<rect x="370.43" y="325.00" width="0.40" height="8.90" fill="#767676"/>
<rect x="371.93" y="325.00" width="0.40" height="8.90" fill="#767676"/>
<circle cx="371.38" cy="322.5" r="1.62" fill="#fff" stroke="#6a6a6a" stroke-width="0.42"/>
<circle cx="371.38" cy="336.3" r="1.62" fill="#fff" stroke="#6a6a6a" stroke-width="0.42"/>
<rect x="376.34" y="325.00" width="0.90" height="8.90" fill="#c8c8c8"/>
<rect x="374.04" y="325.00" width="0.40" height="8.90" fill="#767676"/>
<rect x="375.54" y="325.00" width="0.40" height="8.90" fill="#767676"/>
<circle cx="374.99" cy="322.5" r="1.62" fill="#fff" stroke="#6a6a6a" stroke-width="0.42"/>
<circle cx="374.99" cy="336.3" r="1.62" fill="#fff" stroke="#6a6a6a" stroke-width="0.42"/>
<rect x="379.95" y="325.00" width="0.90" height="8.90" fill="#c8c8c8"/>
<rect x="377.65" y="325.00" width="0.40" height="8.90" fill="#767676"/>
<rect x="379.15" y="325.00" width="0.40" height="8.90" fill="#767676"/>
<circle cx="378.60" cy="322.5" r="1.62" fill="#fff" stroke="#6a6a6a" stroke-width="0.42"/>
<circle cx="378.60" cy="336.3" r="1.62" fill="#fff" stroke="#6a6a6a" stroke-width="0.42"/>
<rect x="383.56" y="325.00" width="0.90" height="8.90" fill="#c8c8c8"/>
<rect x="381.26" y="325.00" width="0.40" height="8.90" fill="#767676"/>
<rect x="382.76" y="325.00" width="0.40" height="8.90" fill="#767676"/>
<circle cx="382.21" cy="322.5" r="1.62" fill="#fff" stroke="#6a6a6a" stroke-width="0.42"/>
<circle cx="382.21" cy="336.3" r="1.62" fill="#fff" stroke="#6a6a6a" stroke-width="0.42"/>
<rect x="387.17" y="325.00" width="0.90" height="8.90" fill="#c8c8c8"/>
<rect x="384.87" y="325.00" width="0.40" height="8.90" fill="#767676"/>
<rect x="386.37" y="325.00" width="0.40" height="8.90" fill="#767676"/>
<circle cx="385.82" cy="322.5" r="1.62" fill="#fff" stroke="#6a6a6a" stroke-width="0.42"/>
<circle cx="385.82" cy="336.3" r="1.62" fill="#fff" stroke="#6a6a6a" stroke-width="0.42"/>
<rect x="390.78" y="325.00" width="0.90" height="8.90" fill="#c8c8c8"/>
<rect x="388.48" y="325.00" width="0.40" height="8.90" fill="#767676"/>
<rect x="389.98" y="325.00" width="0.40" height="8.90" fill="#767676"/>
<circle cx="389.43" cy="322.5" r="1.62" fill="#fff" stroke="#6a6a6a" stroke-width="0.42"/>
<circle cx="389.43" cy="336.3" r="1.62" fill="#fff" stroke="#6a6a6a" stroke-width="0.42"/>
<rect x="394.39" y="325.00" width="0.90" height="8.90" fill="#c8c8c8"/>
<rect x="392.09" y="325.00" width="0.40" height="8.90" fill="#767676"/>
<rect x="393.59" y="325.00" width="0.40" height="8.90" fill="#767676"/>
<circle cx="393.04" cy="322.5" r="1.62" fill="#fff" stroke="#6a6a6a" stroke-width="0.42"/>
<circle cx="393.04" cy="336.3" r="1.62" fill="#fff" stroke="#6a6a6a" stroke-width="0.42"/>
<rect x="398.00" y="325.00" width="0.90" height="8.90" fill="#c8c8c8"/>
<rect x="395.70" y="325.00" width="0.40" height="8.90" fill="#767676"/>
<rect x="397.20" y="325.00" width="0.40" height="8.90" fill="#767676"/>
<circle cx="396.65" cy="322.5" r="1.62" fill="#fff" stroke="#6a6a6a" stroke-width="0.42"/>
<circle cx="396.65" cy="336.3" r="1.62" fill="#fff" stroke="#6a6a6a" stroke-width="0.42"/>
<rect x="401.61" y="325.00" width="0.90" height="8.90" fill="#c8c8c8"/>
<rect x="399.31" y="325.00" width="0.40" height="8.90" fill="#767676"/>
<rect x="400.81" y="325.00" width="0.40" height="8.90" fill="#767676"/>
<circle cx="400.26" cy="322.5" r="1.62" fill="#fff" stroke="#6a6a6a" stroke-width="0.42"/>
<circle cx="400.26" cy="336.3" r="1.62" fill="#fff" stroke="#6a6a6a" stroke-width="0.42"/>
<rect x="405.22" y="325.00" width="0.90" height="8.90" fill="#c8c8c8"/>
<rect x="402.92" y="325.00" width="0.40" height="8.90" fill="#767676"/>
<rect x="404.42" y="325.00" width="0.40" height="8.90" fill="#767676"/>
<circle cx="403.87" cy="322.5" r="1.62" fill="#fff" stroke="#6a6a6a" stroke-width="0.42"/>
<circle cx="403.87" cy="336.3" r="1.62" fill="#fff" stroke="#6a6a6a" stroke-width="0.42"/>
<rect x="408.83" y="325.00" width="0.90" height="8.90" fill="#c8c8c8"/>
<rect x="406.53" y="325.00" width="0.40" height="8.90" fill="#767676"/>
<rect x="408.03" y="325.00" width="0.40" height="8.90" fill="#767676"/>
<circle cx="407.48" cy="322.5" r="1.62" fill="#fff" stroke="#6a6a6a" stroke-width="0.42"/>
<circle cx="407.48" cy="336.3" r="1.62" fill="#fff" stroke="#6a6a6a" stroke-width="0.42"/>
<rect x="412.44" y="325.00" width="0.90" height="8.90" fill="#c8c8c8"/>
<rect x="410.14" y="325.00" width="0.40" height="8.90" fill="#767676"/>
<rect x="411.64" y="325.00" width="0.40" height="8.90" fill="#767676"/>
<circle cx="411.09" cy="322.5" r="1.62" fill="#fff" stroke="#6a6a6a" stroke-width="0.42"/>
<circle cx="411.09" cy="336.3" r="1.62" fill="#fff" stroke="#6a6a6a" stroke-width="0.42"/>
<rect x="416.05" y="325.00" width="0.90" height="8.90" fill="#c8c8c8"/>
<rect x="413.75" y="325.00" width="0.40" height="8.90" fill="#767676"/>
<rect x="415.25" y="325.00" width="0.40" height="8.90" fill="#767676"/>
<circle cx="414.70" cy="322.5" r="1.62" fill="#fff" stroke="#6a6a6a" stroke-width="0.42"/>
<circle cx="414.70" cy="336.3" r="1.62" fill="#fff" stroke="#6a6a6a" stroke-width="0.42"/>
<rect x="419.66" y="325.00" width="0.90" height="8.90" fill="#c8c8c8"/>
<rect x="417.36" y="325.00" width="0.40" height="8.90" fill="#767676"/>
<rect x="418.86" y="325.00" width="0.40" height="8.90" fill="#767676"/>
<circle cx="418.31" cy="322.5" r="1.62" fill="#fff" stroke="#6a6a6a" stroke-width="0.42"/>
<circle cx="418.31" cy="336.3" r="1.62" fill="#fff" stroke="#6a6a6a" stroke-width="0.42"/>
<rect x="423.27" y="325.00" width="0.90" height="8.90" fill="#c8c8c8"/>
<rect x="420.97" y="325.00" width="0.40" height="8.90" fill="#767676"/>
<rect x="422.47" y="325.00" width="0.40" height="8.90" fill="#767676"/>
<circle cx="421.92" cy="322.5" r="1.62" fill="#fff" stroke="#6a6a6a" stroke-width="0.42"/>
<circle cx="421.92" cy="336.3" r="1.62" fill="#fff" stroke="#6a6a6a" stroke-width="0.42"/>
<rect x="426.88" y="325.00" width="0.90" height="8.90" fill="#c8c8c8"/>
<rect x="424.58" y="325.00" width="0.40" height="8.90" fill="#767676"/>
<rect x="426.08" y="325.00" width="0.40" height="8.90" fill="#767676"/>
<circle cx="425.53" cy="322.5" r="1.62" fill="#fff" stroke="#6a6a6a" stroke-width="0.42"/>
<circle cx="425.53" cy="336.3" r="1.62" fill="#fff" stroke="#6a6a6a" stroke-width="0.42"/>
<rect x="430.49" y="325.00" width="0.90" height="8.90" fill="#c8c8c8"/>
<rect x="428.19" y="325.00" width="0.40" height="8.90" fill="#767676"/>
<rect x="429.69" y="325.00" width="0.40" height="8.90" fill="#767676"/>
<circle cx="429.14" cy="322.5" r="1.62" fill="#fff" stroke="#6a6a6a" stroke-width="0.42"/>
<circle cx="429.14" cy="336.3" r="1.62" fill="#fff" stroke="#6a6a6a" stroke-width="0.42"/>
<rect x="434.10" y="325.00" width="0.90" height="8.90" fill="#c8c8c8"/>
<rect x="431.80" y="325.00" width="0.40" height="8.90" fill="#767676"/>
<rect x="433.30" y="325.00" width="0.40" height="8.90" fill="#767676"/>
<circle cx="432.75" cy="322.5" r="1.62" fill="#fff" stroke="#6a6a6a" stroke-width="0.42"/>
<circle cx="432.75" cy="336.3" r="1.62" fill="#fff" stroke="#6a6a6a" stroke-width="0.42"/>
<rect x="437.71" y="325.00" width="0.90" height="8.90" fill="#c8c8c8"/>
<rect x="435.41" y="325.00" width="0.40" height="8.90" fill="#767676"/>
<rect x="436.91" y="325.00" width="0.40" height="8.90" fill="#767676"/>
<circle cx="436.36" cy="322.5" r="1.62" fill="#fff" stroke="#6a6a6a" stroke-width="0.42"/>
<circle cx="436.36" cy="336.3" r="1.62" fill="#fff" stroke="#6a6a6a" stroke-width="0.42"/>
<rect x="441.32" y="325.00" width="0.90" height="8.90" fill="#c8c8c8"/>
<rect x="439.02" y="325.00" width="0.40" height="8.90" fill="#767676"/>
<rect x="440.52" y="325.00" width="0.40" height="8.90" fill="#767676"/>
<circle cx="439.97" cy="322.5" r="1.62" fill="#fff" stroke="#6a6a6a" stroke-width="0.42"/>
<circle cx="439.97" cy="336.3" r="1.62" fill="#fff" stroke="#6a6a6a" stroke-width="0.42"/>
<rect x="444.93" y="325.00" width="0.90" height="8.90" fill="#c8c8c8"/>
<rect x="442.63" y="325.00" width="0.40" height="8.90" fill="#767676"/>
<rect x="444.13" y="325.00" width="0.40" height="8.90" fill="#767676"/>
<circle cx="443.58" cy="322.5" r="1.62" fill="#fff" stroke="#6a6a6a" stroke-width="0.42"/>
<circle cx="443.58" cy="336.3" r="1.62" fill="#fff" stroke="#6a6a6a" stroke-width="0.42"/>
<rect x="448.54" y="325.00" width="0.90" height="8.90" fill="#c8c8c8"/>
<rect x="446.24" y="325.00" width="0.40" height="8.90" fill="#767676"/>
<rect x="447.74" y="325.00" width="0.40" height="8.90" fill="#767676"/>
<circle cx="447.19" cy="322.5" r="1.62" fill="#fff" stroke="#6a6a6a" stroke-width="0.42"/>
<circle cx="447.19" cy="336.3" r="1.62" fill="#fff" stroke="#6a6a6a" stroke-width="0.42"/>
<rect x="452.15" y="325.00" width="0.90" height="8.90" fill="#c8c8c8"/>
<rect x="449.85" y="325.00" width="0.40" height="8.90" fill="#767676"/>
<rect x="451.35" y="325.00" width="0.40" height="8.90" fill="#767676"/>
<circle cx="450.80" cy="322.5" r="1.62" fill="#fff" stroke="#6a6a6a" stroke-width="0.42"/>
<circle cx="450.80" cy="336.3" r="1.62" fill="#fff" stroke="#6a6a6a" stroke-width="0.42"/>
<rect x="455.76" y="325.00" width="0.90" height="8.90" fill="#c8c8c8"/>
<rect x="453.46" y="325.00" width="0.40" height="8.90" fill="#767676"/>
<rect x="454.96" y="325.00" width="0.40" height="8.90" fill="#767676"/>
<circle cx="454.41" cy="322.5" r="1.62" fill="#fff" stroke="#6a6a6a" stroke-width="0.42"/>
<circle cx="454.41" cy="336.3" r="1.62" fill="#fff" stroke="#6a6a6a" stroke-width="0.42"/>
<rect x="459.37" y="325.00" width="0.90" height="8.90" fill="#c8c8c8"/>
<rect x="457.07" y="325.00" width="0.40" height="8.90" fill="#767676"/>
<rect x="458.57" y="325.00" width="0.40" height="8.90" fill="#767676"/>
<circle cx="458.02" cy="322.5" r="1.62" fill="#fff" stroke="#6a6a6a" stroke-width="0.42"/>
<circle cx="458.02" cy="336.3" r="1.62" fill="#fff" stroke="#6a6a6a" stroke-width="0.42"/>
<rect x="462.98" y="325.00" width="0.90" height="8.90" fill="#c8c8c8"/>
<rect x="460.68" y="325.00" width="0.40" height="8.90" fill="#767676"/>
<rect x="462.18" y="325.00" width="0.40" height="8.90" fill="#767676"/>
<circle cx="461.63" cy="322.5" r="1.62" fill="#fff" stroke="#6a6a6a" stroke-width="0.42"/>
<circle cx="461.63" cy="336.3" r="1.62" fill="#fff" stroke="#6a6a6a" stroke-width="0.42"/>
<rect x="466.59" y="325.00" width="0.90" height="8.90" fill="#c8c8c8"/>
<rect x="464.29" y="325.00" width="0.40" height="8.90" fill="#767676"/>
<rect x="465.79" y="325.00" width="0.40" height="8.90" fill="#767676"/>
<circle cx="465.24" cy="322.5" r="1.62" fill="#fff" stroke="#6a6a6a" stroke-width="0.42"/>
<circle cx="465.24" cy="336.3" r="1.62" fill="#fff" stroke="#6a6a6a" stroke-width="0.42"/>
<rect x="470.20" y="325.00" width="0.90" height="8.90" fill="#c8c8c8"/>
<rect x="467.90" y="325.00" width="0.40" height="8.90" fill="#767676"/>
<rect x="469.40" y="325.00" width="0.40" height="8.90" fill="#767676"/>
<circle cx="468.85" cy="322.5" r="1.62" fill="#fff" stroke="#6a6a6a" stroke-width="0.42"/>
<circle cx="468.85" cy="336.3" r="1.62" fill="#fff" stroke="#6a6a6a" stroke-width="0.42"/>
<rect x="473.81" y="325.00" width="0.90" height="8.90" fill="#c8c8c8"/>
<rect x="471.51" y="325.00" width="0.40" height="8.90" fill="#767676"/>
<rect x="473.01" y="325.00" width="0.40" height="8.90" fill="#767676"/>
<circle cx="472.46" cy="322.5" r="1.62" fill="#fff" stroke="#6a6a6a" stroke-width="0.42"/>
<circle cx="472.46" cy="336.3" r="1.62" fill="#fff" stroke="#6a6a6a" stroke-width="0.42"/>
<rect x="477.42" y="325.00" width="0.90" height="8.90" fill="#c8c8c8"/>
<rect x="475.12" y="325.00" width="0.40" height="8.90" fill="#767676"/>
<rect x="476.62" y="325.00" width="0.40" height="8.90" fill="#767676"/>
<circle cx="476.07" cy="322.5" r="1.62" fill="#fff" stroke="#6a6a6a" stroke-width="0.42"/>
<circle cx="476.07" cy="336.3" r="1.62" fill="#fff" stroke="#6a6a6a" stroke-width="0.42"/>
<rect x="481.03" y="325.00" width="0.90" height="8.90" fill="#c8c8c8"/>
<rect x="478.73" y="325.00" width="0.40" height="8.90" fill="#767676"/>
<rect x="480.23" y="325.00" width="0.40" height="8.90" fill="#767676"/>
<circle cx="479.68" cy="322.5" r="1.62" fill="#fff" stroke="#6a6a6a" stroke-width="0.42"/>
<circle cx="479.68" cy="336.3" r="1.62" fill="#fff" stroke="#6a6a6a" stroke-width="0.42"/>
<rect x="484.64" y="325.00" width="0.90" height="8.90" fill="#c8c8c8"/>
<rect x="482.34" y="325.00" width="0.40" height="8.90" fill="#767676"/>
<rect x="483.84" y="325.00" width="0.40" height="8.90" fill="#767676"/>
<circle cx="483.29" cy="322.5" r="1.62" fill="#fff" stroke="#6a6a6a" stroke-width="0.42"/>
<circle cx="483.29" cy="336.3" r="1.62" fill="#fff" stroke="#6a6a6a" stroke-width="0.42"/>
<rect x="488.25" y="325.00" width="0.90" height="8.90" fill="#c8c8c8"/>
<rect x="485.95" y="325.00" width="0.40" height="8.90" fill="#767676"/>
<rect x="487.45" y="325.00" width="0.40" height="8.90" fill="#767676"/>
<circle cx="486.90" cy="322.5" r="1.62" fill="#fff" stroke="#6a6a6a" stroke-width="0.42"/>
<circle cx="486.90" cy="336.3" r="1.62" fill="#fff" stroke="#6a6a6a" stroke-width="0.42"/>
<rect x="491.86" y="325.00" width="0.90" height="8.90" fill="#c8c8c8"/>
<rect x="489.56" y="325.00" width="0.40" height="8.90" fill="#767676"/>
<rect x="491.06" y="325.00" width="0.40" height="8.90" fill="#767676"/>
<circle cx="490.51" cy="322.5" r="1.62" fill="#fff" stroke="#6a6a6a" stroke-width="0.42"/>
<circle cx="490.51" cy="336.3" r="1.62" fill="#fff" stroke="#6a6a6a" stroke-width="0.42"/>
<rect x="495.47" y="325.00" width="0.90" height="8.90" fill="#c8c8c8"/>
<rect x="493.17" y="325.00" width="0.40" height="8.90" fill="#767676"/>
<rect x="494.67" y="325.00" width="0.40" height="8.90" fill="#767676"/>
<circle cx="494.12" cy="322.5" r="1.62" fill="#fff" stroke="#6a6a6a" stroke-width="0.42"/>
<circle cx="494.12" cy="336.3" r="1.62" fill="#fff" stroke="#6a6a6a" stroke-width="0.42"/>
<rect x="499.08" y="325.00" width="0.90" height="8.90" fill="#c8c8c8"/>
<rect x="496.78" y="325.00" width="0.40" height="8.90" fill="#767676"/>
<rect x="498.28" y="325.00" width="0.40" height="8.90" fill="#767676"/>
<circle cx="497.73" cy="322.5" r="1.62" fill="#fff" stroke="#6a6a6a" stroke-width="0.42"/>
<circle cx="497.73" cy="336.3" r="1.62" fill="#fff" stroke="#6a6a6a" stroke-width="0.42"/>
<rect x="502.69" y="325.00" width="0.90" height="8.90" fill="#c8c8c8"/>
<rect x="500.39" y="325.00" width="0.40" height="8.90" fill="#767676"/>
<rect x="501.89" y="325.00" width="0.40" height="8.90" fill="#767676"/>
<circle cx="501.34" cy="322.5" r="1.62" fill="#fff" stroke="#6a6a6a" stroke-width="0.42"/>
<circle cx="501.34" cy="336.3" r="1.62" fill="#fff" stroke="#6a6a6a" stroke-width="0.42"/>
<rect x="506.30" y="325.00" width="0.90" height="8.90" fill="#c8c8c8"/>
<rect x="504.00" y="325.00" width="0.40" height="8.90" fill="#767676"/>
<rect x="505.50" y="325.00" width="0.40" height="8.90" fill="#767676"/>
<circle cx="504.95" cy="322.5" r="1.62" fill="#fff" stroke="#6a6a6a" stroke-width="0.42"/>
<circle cx="504.95" cy="336.3" r="1.62" fill="#fff" stroke="#6a6a6a" stroke-width="0.42"/>
<rect x="509.91" y="325.00" width="0.90" height="8.90" fill="#c8c8c8"/>
<rect x="507.61" y="325.00" width="0.40" height="8.90" fill="#767676"/>
<rect x="509.11" y="325.00" width="0.40" height="8.90" fill="#767676"/>
<circle cx="508.56" cy="322.5" r="1.62" fill="#fff" stroke="#6a6a6a" stroke-width="0.42"/>
<circle cx="508.56" cy="336.3" r="1.62" fill="#fff" stroke="#6a6a6a" stroke-width="0.42"/>
<path d="M481.8 343 L481.8 294.8 Q481.8 289.6 476.6 289.6 L345 289.6 Q337.2 290.5 337.0 297.6" stroke-dasharray="0.6 0.55" fill="none" stroke="#8a8a8a" stroke-width="0.55"/>
<circle cx="337.0" cy="298.5" r="0.9" fill="#111"/>
<path d="M336.4 365 L336.4 421.0 Q336.6 425.7 341 425.7 L356.5 425.7" stroke-dasharray="0.6 0.55" fill="none" stroke="#8a8a8a" stroke-width="0.55"/>
<path d="M358.4 425.7 L355.8 424.5 L355.8 426.9 Z" fill="#111"/>
<path d="M453.5 426.2 L476.8 426.2 Q481.3 426.0 481.3 421.5 L481.3 394.6" stroke-dasharray="0.6 0.55" fill="none" stroke="#8a8a8a" stroke-width="0.55"/>
<path d="M481.3 392.4 L480.1 395.0 L482.5 395.0 Z" fill="#111"/>
<rect x="333.50" y="318.00" width="6.00" height="22.00" fill="#fff"/>
<rect x="318.6" y="318.0" width="7.80" height="36.0" rx="3.9" fill="url(#rbar)"/>
<rect x="346.8" y="318.0" width="7.80" height="36.0" rx="3.9" fill="url(#rbar)"/>
<rect x="326.6" y="309.0" width="7.60" height="56.6" rx="3.8" fill="url(#bbar)"/>
<rect x="338.8" y="309.0" width="7.60" height="56.6" rx="3.8" fill="url(#bbar)"/>
<circle cx="330.3" cy="307.8" r="6.1" fill="url(#ilg)"/>
<text x="330.30" y="309.40" font-size="4.40" text-anchor="middle" fill="#444" stroke="#444" stroke-width="0.123" textLength="9.00" lengthAdjust="spacingAndGlyphs">IL-10</text>
<circle cx="342.6" cy="307.8" r="6.1" fill="url(#ilg)"/>
<text x="342.60" y="309.40" font-size="4.40" text-anchor="middle" fill="#444" stroke="#444" stroke-width="0.123" textLength="9.00" lengthAdjust="spacingAndGlyphs">IL-10</text>
<circle cx="321.9" cy="342.8" r="5.8" fill="url(#tyk)" stroke="#e57386" stroke-width="0.4"/>
<text x="321.90" y="344.50" font-size="4.60" text-anchor="middle" fill="#333" stroke="#333" stroke-width="0.129" textLength="9.00" lengthAdjust="spacingAndGlyphs">TYK2</text>
<circle cx="350.3" cy="342.8" r="5.8" fill="url(#tyk)" stroke="#e57386" stroke-width="0.4"/>
<text x="350.30" y="344.50" font-size="4.60" text-anchor="middle" fill="#333" stroke="#333" stroke-width="0.129" textLength="9.00" lengthAdjust="spacingAndGlyphs">TYK2</text>
<circle cx="330.2" cy="356.9" r="6.2" fill="url(#jak)"/>
<text x="330.20" y="358.50" font-size="4.50" text-anchor="middle" fill="#222" stroke="#222" stroke-width="0.126" textLength="9.00" lengthAdjust="spacingAndGlyphs">JAK1</text>
<circle cx="342.8" cy="356.9" r="6.2" fill="url(#jak)"/>
<text x="342.80" y="358.50" font-size="4.50" text-anchor="middle" fill="#222" stroke="#222" stroke-width="0.126" textLength="9.00" lengthAdjust="spacingAndGlyphs">JAK1</text>
<text x="324.10" y="336.60" font-size="4.10" fill="#5a1a1a" textLength="16.20" lengthAdjust="spacingAndGlyphs" transform="rotate(-90 324.10 336.60)">IL-10RB</text>
<text x="352.30" y="336.60" font-size="4.10" fill="#5a1a1a" textLength="16.20" lengthAdjust="spacingAndGlyphs" transform="rotate(-90 352.30 336.60)">IL-10RB</text>
<text x="331.90" y="336.30" font-size="4.10" fill="#1a3a5a" textLength="16.80" lengthAdjust="spacingAndGlyphs" transform="rotate(-90 331.90 336.30)">IL-10RA</text>
<text x="344.10" y="336.30" font-size="4.10" fill="#1a3a5a" textLength="16.80" lengthAdjust="spacingAndGlyphs" transform="rotate(-90 344.10 336.30)">IL-10RA</text>
<rect x="477.1" y="343.2" width="9.1" height="32.8" rx="4.5" fill="url(#rbar)"/>
<text x="483.20" y="359.60" font-size="4.20" text-anchor="middle" fill="#5a1a1a" stroke="#5a1a1a" stroke-width="0.118" textLength="17.00" lengthAdjust="spacingAndGlyphs" transform="rotate(-90 483.20 359.60)">IL-10RB</text>
<circle cx="484.9" cy="383.4" r="6.2" fill="url(#ilg)"/>
<text x="484.90" y="385.00" font-size="4.40" text-anchor="middle" fill="#444" stroke="#444" stroke-width="0.123" textLength="9.00" lengthAdjust="spacingAndGlyphs">IL-10</text>
<circle cx="317.7" cy="371.5" r="2.8" fill="#f3a3af" stroke="#ec8e9c" stroke-width="0.3"/>
<text x="317.70" y="372.80" font-size="3.60" text-anchor="middle" fill="#333">P</text>
<circle cx="354.6" cy="371.5" r="2.8" fill="#f3a3af" stroke="#ec8e9c" stroke-width="0.3"/>
<text x="354.60" y="372.80" font-size="3.60" text-anchor="middle" fill="#333">P</text>
<ellipse cx="327.4" cy="376.5" rx="8.8" ry="5.1" fill="#f7b5be" stroke="#ee97a4" stroke-width="0.5"/>
<text x="327.40" y="378.20" font-size="4.80" text-anchor="middle" fill="#333" stroke="#333" stroke-width="0.134" textLength="12.00" lengthAdjust="spacingAndGlyphs">STAT3</text>
<ellipse cx="345.4" cy="376.5" rx="8.8" ry="5.1" fill="#f7b5be" stroke="#ee97a4" stroke-width="0.5"/>
<text x="345.40" y="378.20" font-size="4.80" text-anchor="middle" fill="#333" stroke="#333" stroke-width="0.134" textLength="12.00" lengthAdjust="spacingAndGlyphs">STAT3</text>
<rect x="375.80" y="349.00" width="27.90" height="8.90" fill="#ef6f6a"/>
<rect x="403.70" y="349.00" width="56.30" height="8.90" fill="#5ea7e0"/>
<rect x="375.8" y="349.0" width="84.2" height="8.9" fill="none" stroke="#4a86c0" stroke-width="0.3"/>
<text x="391.20" y="355.00" font-size="4.60" text-anchor="middle" fill="#5a1a1a" stroke="#5a1a1a" stroke-width="0.129" textLength="10.50" lengthAdjust="spacingAndGlyphs">NPM1</text>
<text x="429.80" y="355.00" font-size="4.60" text-anchor="middle" fill="#1a3050" stroke="#1a3050" stroke-width="0.129" textLength="8.00" lengthAdjust="spacingAndGlyphs">ALK</text>
<line x1="421.00" y1="360.20" x2="421.00" y2="376.50" stroke="#555" stroke-width="0.6"/>
<circle cx="421.0" cy="377.4" r="0.9" fill="#111"/>
<line x1="422.30" y1="367.00" x2="422.30" y2="372.70" stroke="#555" stroke-width="0.6"/>
<line x1="422.30" y1="369.80" x2="435.40" y2="369.80" stroke="#555" stroke-width="0.6"/>
<text x="437.00" y="371.30" font-size="4.60" fill="#444" stroke="#444" stroke-width="0.129" textLength="9.00" lengthAdjust="spacingAndGlyphs">ALKi</text>
<ellipse cx="411.8" cy="383.3" rx="8.8" ry="5.1" fill="#f7b5be" stroke="#ee97a4" stroke-width="0.5"/>
<text x="411.80" y="385.00" font-size="4.80" text-anchor="middle" fill="#333" stroke="#333" stroke-width="0.134" textLength="12.00" lengthAdjust="spacingAndGlyphs">STAT3</text>
<ellipse cx="430.6" cy="383.3" rx="8.8" ry="5.1" fill="#f7b5be" stroke="#ee97a4" stroke-width="0.5"/>
<text x="430.60" y="385.00" font-size="4.80" text-anchor="middle" fill="#333" stroke="#333" stroke-width="0.134" textLength="12.00" lengthAdjust="spacingAndGlyphs">STAT3</text>
<line x1="360.50" y1="431.50" x2="441.00" y2="431.50" stroke="#333" stroke-width="0.8"/>
<path d="M408.8 431.2 L408.8 426.2 L438.5 426.2" fill="none" stroke="#111" stroke-width="0.8"/>
<path d="M441.2 426.2 L437.8 424.7 L437.8 427.7 Z" fill="#111"/>
<circle cx="361.2" cy="420.4" r="2.8" fill="#f3a3af" stroke="#ec8e9c" stroke-width="0.3"/>
<text x="361.20" y="421.70" font-size="3.60" text-anchor="middle" fill="#333">P</text>
<circle cx="398.5" cy="420.8" r="2.8" fill="#f3a3af" stroke="#ec8e9c" stroke-width="0.3"/>
<text x="398.50" y="422.10" font-size="3.60" text-anchor="middle" fill="#333">P</text>
<ellipse cx="371.5" cy="425.5" rx="8.6" ry="5.0" fill="#f7b5be" stroke="#ee97a4" stroke-width="0.5"/>
<text x="371.50" y="427.20" font-size="4.80" text-anchor="middle" fill="#333" stroke="#333" stroke-width="0.134" textLength="12.00" lengthAdjust="spacingAndGlyphs">STAT3</text>
<ellipse cx="388.6" cy="425.5" rx="8.6" ry="5.0" fill="#f7b5be" stroke="#ee97a4" stroke-width="0.5"/>
<text x="388.60" y="427.20" font-size="4.80" text-anchor="middle" fill="#333" stroke="#333" stroke-width="0.134" textLength="12.00" lengthAdjust="spacingAndGlyphs">STAT3</text>
<text x="441.20" y="409.00" font-size="4.90" fill="#333" stroke="#333" stroke-width="0.137" textLength="39.80" lengthAdjust="spacingAndGlyphs">STAT3 target genes</text>
<text x="441.20" y="414.50" font-size="4.90" fill="#333" stroke="#333" stroke-width="0.137" textLength="18.40" lengthAdjust="spacingAndGlyphs">including</text>
<text x="441.20" y="419.80" font-size="4.90" font-style="italic" fill="#333" stroke="#333" stroke-width="0.137" textLength="8.60" lengthAdjust="spacingAndGlyphs">IRF4</text>
<text x="441.20" y="425.10" font-size="4.90" fill="#333" stroke="#333" stroke-width="0.137" textLength="14.00" lengthAdjust="spacingAndGlyphs">IL10RB</text>
<text x="441.20" y="430.40" font-size="4.90" fill="#333" stroke="#333" stroke-width="0.137" textLength="9.00" lengthAdjust="spacingAndGlyphs">IL10</text>
<rect x="0.5" y="0.5" width="519" height="448" fill="none" stroke="#000" stroke-width="1"/>
</svg>
</body></html>
